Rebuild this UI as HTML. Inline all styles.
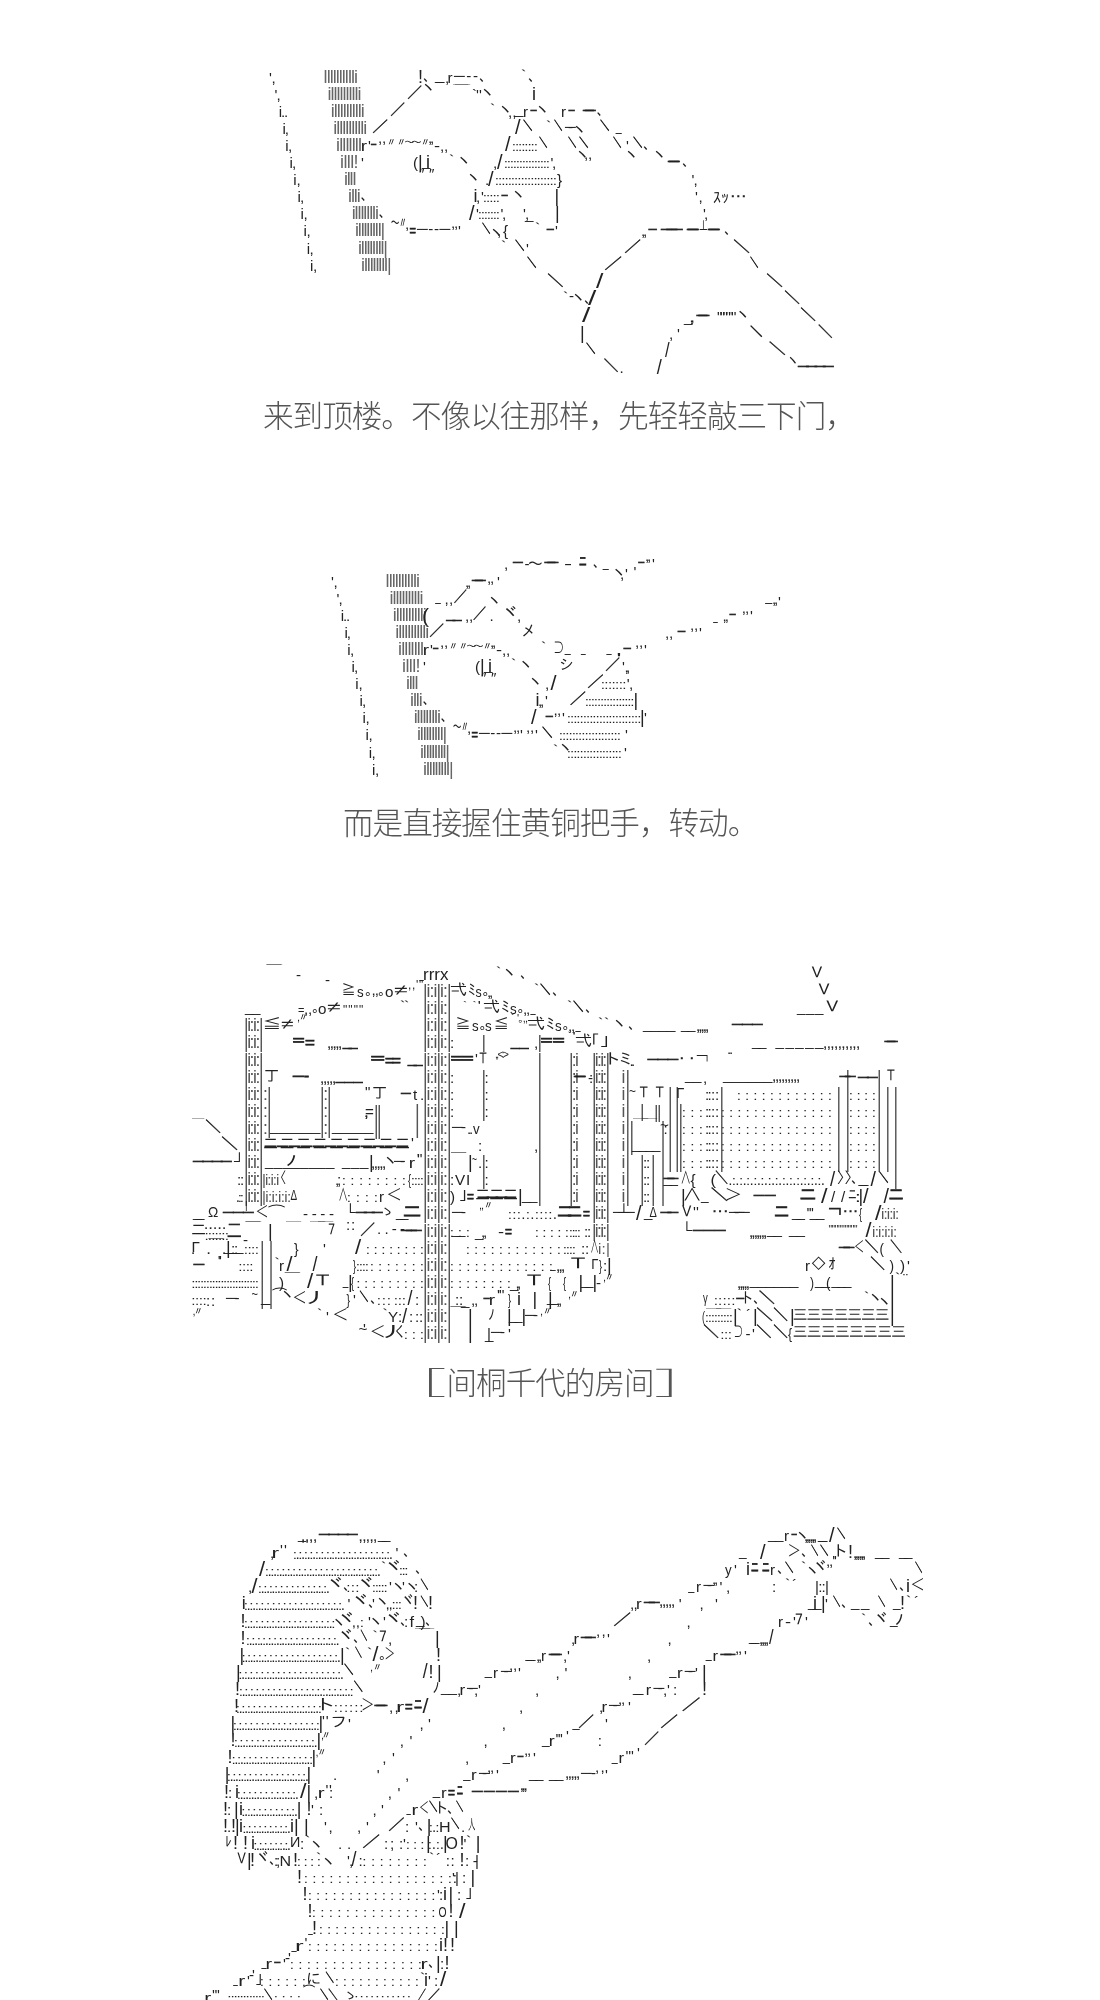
<!DOCTYPE html>
<html lang="zh"><head><meta charset="utf-8"><title>AA</title>
<style>
html,body{margin:0;padding:0;background:#fff}
body{filter:grayscale(1)}
svg text.b{stroke:#222;stroke-width:0.8px}
svg text.d{stroke:#222;stroke-width:0.4px}
svg text.c{stroke:#222;stroke-width:0.1px}
body{width:1100px;height:2000px;position:relative;overflow:hidden}
svg{position:absolute;left:0;top:0}
svg text{font-family:'Liberation Sans','IPAGothic','Noto Sans CJK JP',sans-serif;font-size:15.2px;fill:#222;white-space:pre}
.cap{position:absolute;white-space:nowrap;letter-spacing:-1px;font-family:"Liberation Sans","Noto Sans CJK SC",sans-serif;font-size:30.6px;line-height:1;color:#555;font-weight:300}
</style></head><body>
<svg width="1100" height="2000" viewBox="0 0 1100 2000">
<text x="269.0" y="82.5">'</text>
<text x="271.5" y="82.5">,</text>
<text x="323.6" y="82.5" style="font-size:18px;fill:#666;letter-spacing:-0.96px;">lllllllllli</text>
<text x="418.0" y="82.5" style="font-size:18px;">!</text>
<text x="423.0" y="80.5">､</text>
<text x="435.0" y="80.0" style="letter-spacing:-7.45px;">__</text>
<text x="445.0" y="82.5">,</text>
<text x="447.5" y="82.5">r</text>
<text x="454.0" y="80.5" style="letter-spacing:1.59px;">─--</text>
<text x="479.0" y="80.5">､</text>
<text x="516.0" y="80.5">｀</text>
<text x="528.0" y="80.5">､</text>
<text x="274.5" y="99.6">'</text>
<text x="276.5" y="99.6">,</text>
<text x="327.6" y="99.6" style="font-size:18px;fill:#666;letter-spacing:-1.00px;">illllllllli</text>
<text class="d" transform="translate(407.0 97.6) scale(1.000 1)" x="0.0" y="0">／</text>
<text x="421.0" y="92.6">ヽ</text>
<text x="453.0" y="97.6" style="letter-spacing:-13.19px;">￣￣</text>
<text x="472.0" y="99.6">`</text>
<text x="476.0" y="99.6">''</text>
<text x="480.0" y="97.6">ヽ</text>
<text x="532.0" y="99.6" style="font-size:18px;">i</text>
<text x="278.7" y="116.7" style="letter-spacing:-1.15px;">i..</text>
<text x="330.8" y="116.7" style="font-size:18px;fill:#666;letter-spacing:-1.00px;">illllllllli</text>
<text class="d" transform="translate(390.0 114.7) scale(1.000 1)" x="0.0" y="0">／</text>
<text x="485.0" y="114.7">｀</text>
<text x="498.0" y="114.7">ヽ</text>
<text x="508.0" y="116.7">,,</text>
<text x="515.0" y="114.2">_</text>
<text x="523.0" y="116.7">r</text>
<text class="d" transform="translate(530.0 114.7) scale(0.583 1)" x="1.0" y="0">─</text>
<text x="535.0" y="114.7">ヽ</text>
<text x="561.0" y="116.7">r</text>
<text class="d" transform="translate(568.0 114.7) scale(0.583 1)" x="1.0" y="0">─</text>
<text class="d" x="583.0" y="114.7" style="letter-spacing:-8.76px;">──</text>
<text x="596.5" y="114.7">､</text>
<text x="282.4" y="133.8" style="letter-spacing:-1.07px;">i,</text>
<text x="333.3" y="133.8" style="font-size:18px;fill:#666;letter-spacing:-1.00px;">illllllllli</text>
<text class="d" transform="translate(372.0 131.8) scale(1.067 1)" x="0.0" y="0">／</text>
<text transform="translate(515.0 134.3) scale(1.000 1)" x="0.0" y="0" style="font-size:20px;">/</text>
<text class="b" transform="translate(523.0 130.3) scale(0.750 1)" x="0.0" y="0" style="font-size:12.5px;">＼</text>
<text x="541.0" y="131.8">｀</text>
<text class="b" transform="translate(554.0 130.3) scale(0.667 1)" x="0.0" y="0" style="font-size:12.5px;">＼</text>
<text x="565.0" y="131.8" style="letter-spacing:-7.76px;">─-</text>
<text x="572.0" y="134.8">ヽ</text>
<text class="b" transform="translate(600.0 130.3) scale(0.750 1)" x="0.0" y="0" style="font-size:12.5px;">＼</text>
<text transform="translate(615.0 131.3) scale(0.700 1)" x="1.0" y="0">_</text>
<text x="285.3" y="150.9" style="letter-spacing:-0.67px;">i,</text>
<text x="336.0" y="150.9" style="font-size:18px;fill:#666;letter-spacing:-0.86px;">illlllll</text>
<text transform="translate(362.0 150.9) scale(1.250 1)" x="-1.0" y="0">r</text>
<text x="368.0" y="150.9">'</text>
<text class="d" transform="translate(370.6 148.9) scale(0.492 1)" x="1.0" y="0">─</text>
<text x="378.0" y="142.9" style="letter-spacing:-0.22px;">,,</text>
<text x="386.0" y="145.9" style="font-size:11px;letter-spacing:-1.00px;">〃〃</text>
<text x="404.0" y="145.9" style="font-size:11px;letter-spacing:-4.00px;">～～</text>
<text transform="translate(422.0 145.9) scale(1.000 1)" x="-2.0" y="0" style="font-size:11px;">〃</text>
<text x="428.0" y="142.9" style="letter-spacing:-2.22px;">,,</text>
<text transform="translate(434.0 150.9) scale(1.200 1)" x="0.0" y="0">-</text>
<text x="440.0" y="150.9" style="letter-spacing:-0.22px;">,,</text>
<text transform="translate(505.0 151.4) scale(1.000 1)" x="0.0" y="0" style="font-size:20px;">/</text>
<text class="c" x="512.0" y="150.9" style="font-size:13.5px;letter-spacing:-0.61px;">::::::::</text>
<text class="b" transform="translate(539.0 147.4) scale(0.667 1)" x="0.0" y="0" style="font-size:12.5px;">＼</text>
<text class="b" transform="translate(568.0 147.4) scale(0.667 1)" x="0.0" y="0" style="font-size:12.5px;">＼</text>
<text class="b" transform="translate(579.0 147.4) scale(0.750 1)" x="0.0" y="0" style="font-size:12.5px;">＼</text>
<text class="b" transform="translate(613.0 147.4) scale(0.667 1)" x="0.0" y="0" style="font-size:12.5px;">＼</text>
<text x="626.0" y="150.9">'</text>
<text class="b" transform="translate(633.0 147.4) scale(0.750 1)" x="0.0" y="0" style="font-size:12.5px;">＼</text>
<text x="643.0" y="148.9">､</text>
<text x="289.6" y="168.0" style="letter-spacing:-0.97px;">i,</text>
<text x="340.0" y="168.0" style="font-size:18px;fill:#666;letter-spacing:-0.62px;">illl!</text>
<text x="361.0" y="168.0">'</text>
<text x="413.0" y="168.0">(</text>
<text x="418.0" y="168.0" style="font-size:18px;">|</text>
<text x="422.0" y="165.5">_</text>
<text x="426.0" y="168.0" style="font-size:18px;">i</text>
<text x="444.0" y="166.0">｀</text>
<text x="456.5" y="166.0">ヽ</text>
<text x="493.0" y="168.0">,</text>
<text transform="translate(497.0 168.5) scale(1.000 1)" x="0.0" y="0" style="font-size:20px;">/</text>
<text class="c" x="504.0" y="168.0" style="font-size:13.5px;letter-spacing:-0.75px;">:::::::::::::::</text>
<text x="550.6" y="168.0">'</text>
<text x="552.0" y="168.0">,</text>
<text x="575.0" y="160.0">ヽ</text>
<text x="584.0" y="159.0" style="letter-spacing:-0.22px;">,,</text>
<text x="624.0" y="160.0">ヽ</text>
<text x="652.0" y="160.0">ヽ</text>
<text class="d" x="668.0" y="166.0" style="letter-spacing:-9.76px;">──</text>
<text x="682.0" y="166.0">､</text>
<text x="293.3" y="185.1" style="letter-spacing:-0.27px;">i,</text>
<text x="344.0" y="185.1" style="font-size:18px;fill:#666;letter-spacing:-1.20px;">illl</text>
<text x="419.0" y="179.1" style="letter-spacing:4.62px;">″″</text>
<text x="466.0" y="183.1">ヽ</text>
<text x="485.0" y="185.1">.</text>
<text transform="translate(488.0 185.6) scale(1.000 1)" x="0.0" y="0" style="font-size:20px;">/</text>
<text class="c" x="495.0" y="185.1" style="font-size:13.5px;letter-spacing:-0.53px;">:::::::::::::::::::</text>
<text x="557.0" y="185.1">}</text>
<text x="691.5" y="185.1">'</text>
<text x="693.5" y="185.1">,</text>
<text x="297.6" y="202.2" style="letter-spacing:-0.97px;">i,</text>
<text x="348.0" y="202.2" style="font-size:18px;fill:#666;letter-spacing:-1.10px;">illi</text>
<text x="360.5" y="200.2">､</text>
<text x="473.6" y="202.2" style="font-size:18px;">i</text>
<text x="476.0" y="202.2">,</text>
<text x="481.0" y="202.2">'</text>
<text class="c" x="483.0" y="202.2" style="font-size:13.5px;letter-spacing:-0.50px;">:::::</text>
<text class="d" transform="translate(501.0 200.2) scale(0.583 1)" x="1.0" y="0">─</text>
<text x="511.0" y="200.2">ヽ</text>
<text x="554.6" y="202.2" style="font-size:18px;">|</text>
<text x="695.0" y="202.2">'</text>
<text x="698.5" y="202.2">,</text>
<text x="713.0" y="202.7" style="font-size:16px;letter-spacing:0.00px;">ｽｯ</text>
<text x="729.0" y="202.2" style="letter-spacing:-2.09px;">･･･</text>
<text x="300.5" y="219.3" style="letter-spacing:-0.27px;">i,</text>
<text x="351.7" y="219.3" style="font-size:18px;fill:#666;letter-spacing:-1.09px;">illllllli</text>
<text x="378.6" y="217.3">､</text>
<text transform="translate(469.0 219.8) scale(1.000 1)" x="0.0" y="0" style="font-size:20px;">/</text>
<text x="476.0" y="219.3">'</text>
<text class="c" x="478.0" y="219.3" style="font-size:13.5px;letter-spacing:-0.75px;">:::::::</text>
<text x="500.5" y="219.3">'</text>
<text x="502.0" y="219.3">,</text>
<text x="523.0" y="219.3">'</text>
<text x="525.0" y="219.3" style="letter-spacing:-4.22px;">,_</text>
<text x="555.0" y="219.3" style="font-size:18px;">|</text>
<text x="703.0" y="219.3">'</text>
<text x="704.0" y="219.3">,</text>
<text x="303.5" y="236.4" style="letter-spacing:-0.37px;">i,</text>
<text x="355.0" y="236.4" style="font-size:18px;fill:#666;letter-spacing:-1.17px;">illllllll|</text>
<text transform="translate(391.0 228.4) scale(0.615 1)" x="-1.0" y="0">～</text>
<text transform="translate(400.0 228.4) scale(0.625 1)" x="-3.0" y="0">〃</text>
<text x="405.0" y="229.4">,</text>
<text class="b" transform="translate(409.5 236.4) scale(0.722 1)" x="0.0" y="0">=</text>
<text x="417.0" y="234.4" style="letter-spacing:0.54px;">─--─</text>
<text x="451.0" y="228.4" style="letter-spacing:-1.22px;">,,</text>
<text x="458.0" y="236.4">'</text>
<text class="b" transform="translate(482.0 232.9) scale(0.667 1)" x="0.0" y="0" style="font-size:12.5px;">＼</text>
<text x="489.0" y="238.4">ヽ</text>
<text x="497.0" y="236.4">,</text>
<text x="503.0" y="236.4">{</text>
<text x="530.0" y="234.4">｀</text>
<text class="d" transform="translate(546.0 234.4) scale(0.667 1)" x="1.0" y="0">─</text>
<text x="555.0" y="236.4">'</text>
<text x="641.0" y="236.4" style="letter-spacing:-2.22px;">,,</text>
<text class="d" transform="translate(647.7 234.4) scale(0.775 1)" x="1.0" y="0">─</text>
<text class="d" x="661.0" y="234.4" style="letter-spacing:-5.26px;">───</text>
<text class="d" x="687.0" y="234.4" style="letter-spacing:-9.76px;">──</text>
<text transform="translate(699.0 234.4) scale(0.667 1)" x="1.0" y="0">┴</text>
<text class="d" x="708.0" y="234.4" style="letter-spacing:-9.76px;">──</text>
<text x="724.0" y="234.4">､</text>
<text x="306.7" y="253.5" style="letter-spacing:-0.57px;">i,</text>
<text x="358.0" y="253.5" style="font-size:18px;fill:#666;letter-spacing:-1.18px;">illllllll|</text>
<text x="496.0" y="251.5">｀</text>
<text class="b" transform="translate(515.0 250.0) scale(0.750 1)" x="0.0" y="0" style="font-size:12.5px;">＼</text>
<text x="526.0" y="253.5">'</text>
<text class="d" transform="translate(624.0 251.5) scale(1.133 1)" x="0.0" y="0">／</text>
<text class="d" transform="translate(733.0 251.5) scale(1.133 1)" x="0.0" y="0">＼</text>
<text x="310.0" y="270.6" style="letter-spacing:-0.37px;">i,</text>
<text x="361.0" y="270.6" style="font-size:18px;fill:#666;letter-spacing:-1.11px;">illllllll|</text>
<text class="b" transform="translate(527.0 267.1) scale(0.750 1)" x="0.0" y="0" style="font-size:12.5px;">＼</text>
<text class="d" transform="translate(604.0 268.6) scale(1.200 1)" x="0.0" y="0">／</text>
<text class="b" transform="translate(750.0 267.1) scale(0.667 1)" x="0.0" y="0" style="font-size:12.5px;">＼</text>
<text class="d" transform="translate(547.0 285.7) scale(1.107 1)" x="0.0" y="0">＼</text>
<text transform="translate(596.0 288.2) scale(1.333 1)" x="0.0" y="0" style="font-size:20px;">/</text>
<text class="d" transform="translate(766.0 285.7) scale(1.133 1)" x="0.0" y="0">＼</text>
<text x="558.0" y="302.8">｀</text>
<text x="569.0" y="300.8">-</text>
<text x="571.0" y="302.8">ヽ</text>
<text x="584.0" y="302.8">､</text>
<text transform="translate(588.0 305.3) scale(1.500 1)" x="0.0" y="0" style="font-size:20px;">/</text>
<text class="d" transform="translate(784.0 302.8) scale(1.067 1)" x="0.0" y="0">＼</text>
<text transform="translate(582.0 322.4) scale(1.500 1)" x="0.0" y="0" style="font-size:20px;">/</text>
<text x="684.0" y="321.9" style="letter-spacing:-3.03px;">_,,</text>
<text class="d" x="696.5" y="319.9" style="letter-spacing:-8.76px;">──</text>
<text x="717.0" y="321.9" style="letter-spacing:-2.59px;">""""""</text>
<text x="735.6" y="319.9">ヽ</text>
<text class="d" transform="translate(800.0 319.9) scale(1.067 1)" x="0.0" y="0">＼</text>
<text x="580.0" y="339.0" style="font-size:18px;">|</text>
<text x="677.0" y="339.0">'</text>
<text x="669.0" y="339.0">,</text>
<text class="b" transform="translate(750.0 335.5) scale(1.000 1)" x="0.0" y="0" style="font-size:12.5px;">＼</text>
<text class="d" transform="translate(817.7 337.0) scale(1.000 1)" x="0.0" y="0">＼</text>
<text class="b" transform="translate(586.0 352.6) scale(0.750 1)" x="0.0" y="0" style="font-size:12.5px;">＼</text>
<text transform="translate(665.0 356.6) scale(0.833 1)" x="0.0" y="0" style="font-size:20px;">/</text>
<text class="d" transform="translate(768.6 354.1) scale(1.160 1)" x="0.0" y="0">＼</text>
<text class="d" transform="translate(603.6 371.2) scale(1.000 1)" x="0.0" y="0">＼</text>
<text x="619.5" y="373.2">.</text>
<text transform="translate(656.8 373.7) scale(0.917 1)" x="0.0" y="0" style="font-size:20px;">/</text>
<text transform="translate(789.0 366.2) scale(0.875 1)" x="-3.0" y="0">ヽ</text>
<text class="d" x="798.0" y="371.2" style="letter-spacing:-2.43px;">────</text>
<text x="331.0" y="586.5">'</text>
<text x="333.5" y="586.5">,</text>
<text x="385.6" y="586.5" style="font-size:18px;fill:#666;letter-spacing:-0.96px;">lllllllllli</text>
<text class="d" x="472.0" y="584.5" style="letter-spacing:-7.76px;">──</text>
<text x="487.0" y="582.5" style="letter-spacing:-1.22px;">,,</text>
<text x="497.0" y="586.5">'</text>
<text x="465.0" y="586.5" style="letter-spacing:-2.22px;">,,</text>
<text x="611.5" y="577.5">ヽ</text>
<text x="620.0" y="578.5" style="letter-spacing:0.78px;">,'</text>
<text x="336.5" y="603.6">'</text>
<text x="338.5" y="603.6">,</text>
<text x="389.6" y="603.6" style="font-size:18px;fill:#666;letter-spacing:-1.00px;">illllllllli</text>
<text transform="translate(434.5 601.1) scale(0.650 1)" x="1.0" y="0">_</text>
<text x="444.5" y="603.6" style="letter-spacing:0.28px;">,,</text>
<text class="d" transform="translate(453.6 601.6) scale(0.893 1)" x="0.0" y="0">／</text>
<text x="487.0" y="605.6">ヽ</text>
<text transform="translate(764.5 601.1) scale(0.820 1)" x="1.0" y="0">_</text>
<text x="772.0" y="603.6" style="letter-spacing:-2.22px;">,,</text>
<text x="778.0" y="606.6">'</text>
<text x="340.7" y="620.7" style="letter-spacing:-1.15px;">i..</text>
<text x="392.8" y="620.7" style="font-size:18px;fill:#666;letter-spacing:-1.00px;">illllllllli</text>
<text x="422.0" y="622.7" style="font-size:21px;">(</text>
<text class="b" x="446.5" y="618.2" style="letter-spacing:-1.95px;">__</text>
<text x="465.0" y="620.7" style="letter-spacing:-0.22px;">,,</text>
<text class="d" transform="translate(472.7 618.7) scale(0.887 1)" x="0.0" y="0">／</text>
<text x="489.5" y="620.7">.</text>
<text x="501.5" y="618.7" style="font-size:18px;">ヾ</text>
<text x="517.0" y="620.7">,</text>
<text transform="translate(712.7 620.2) scale(0.530 1)" x="1.0" y="0">_</text>
<text x="722.6" y="620.7" style="letter-spacing:-2.12px;">,,</text>
<text class="d" transform="translate(729.0 618.7) scale(0.583 1)" x="1.0" y="0">─</text>
<text x="741.7" y="612.7" style="letter-spacing:-0.92px;">,,</text>
<text x="750.0" y="620.7">'</text>
<text x="344.4" y="637.8" style="letter-spacing:-1.07px;">i,</text>
<text x="395.3" y="637.8" style="font-size:18px;fill:#666;letter-spacing:-1.00px;">illllllllli</text>
<text class="d" transform="translate(429.0 635.8) scale(1.000 1)" x="0.0" y="0">／</text>
<text x="521.0" y="635.8">メ</text>
<text x="665.0" y="637.8" style="letter-spacing:-0.22px;">,,</text>
<text class="d" transform="translate(677.0 635.8) scale(0.708 1)" x="1.0" y="0">─</text>
<text x="690.0" y="629.8" style="letter-spacing:-0.22px;">,,</text>
<text x="699.0" y="637.8">'</text>
<text x="347.3" y="654.9" style="letter-spacing:-0.67px;">i,</text>
<text x="398.0" y="654.9" style="font-size:18px;fill:#666;letter-spacing:-0.86px;">illlllll</text>
<text transform="translate(424.0 654.9) scale(1.250 1)" x="-1.0" y="0">r</text>
<text x="430.0" y="654.9">'</text>
<text class="d" transform="translate(432.6 652.9) scale(0.492 1)" x="1.0" y="0">─</text>
<text x="440.0" y="646.9" style="letter-spacing:-0.22px;">,,</text>
<text x="448.0" y="649.9" style="font-size:11px;letter-spacing:-1.00px;">〃〃</text>
<text x="466.0" y="649.9" style="font-size:11px;letter-spacing:-4.00px;">～～</text>
<text transform="translate(484.0 649.9) scale(1.000 1)" x="-2.0" y="0" style="font-size:11px;">〃</text>
<text x="490.0" y="646.9" style="letter-spacing:-2.22px;">,,</text>
<text transform="translate(496.0 654.9) scale(1.200 1)" x="0.0" y="0">-</text>
<text x="502.0" y="654.9" style="letter-spacing:-0.22px;">,,</text>
<text x="536.0" y="652.9">｀</text>
<text transform="translate(554.5 652.9) scale(0.654 1)" x="-1.0" y="0">⊃</text>
<text transform="translate(564.0 652.4) scale(0.700 1)" x="1.0" y="0">_</text>
<text transform="translate(580.5 652.4) scale(0.550 1)" x="1.0" y="0">_</text>
<text transform="translate(606.0 652.4) scale(0.600 1)" x="1.0" y="0">_</text>
<text x="617.0" y="662.9" style="letter-spacing:-1.90px;">''</text>
<text class="d" transform="translate(622.7 652.9) scale(0.692 1)" x="1.0" y="0">─</text>
<text x="635.0" y="646.9" style="letter-spacing:-0.22px;">,,</text>
<text x="644.0" y="654.9">'</text>
<text x="351.6" y="672.0" style="letter-spacing:-0.97px;">i,</text>
<text x="402.0" y="672.0" style="font-size:18px;fill:#666;letter-spacing:-0.62px;">illl!</text>
<text x="423.0" y="672.0">'</text>
<text x="475.0" y="672.0">(</text>
<text x="480.0" y="672.0" style="font-size:18px;">|</text>
<text x="484.0" y="669.5">_</text>
<text x="488.0" y="672.0" style="font-size:18px;">i</text>
<text x="506.0" y="670.0">｀</text>
<text x="518.5" y="670.0">ヽ</text>
<text x="559.0" y="670.0">シ</text>
<text class="d" transform="translate(605.0 670.0) scale(1.000 1)" x="0.0" y="0">／</text>
<text x="622.0" y="672.0">'</text>
<text x="624.5" y="672.0" style="letter-spacing:-2.72px;">,,</text>
<text x="355.3" y="689.1" style="letter-spacing:-0.27px;">i,</text>
<text x="406.0" y="689.1" style="font-size:18px;fill:#666;letter-spacing:-1.20px;">illl</text>
<text x="481.0" y="683.1" style="letter-spacing:4.62px;">″″</text>
<text x="528.0" y="687.1">ヽ</text>
<text x="545.0" y="689.1">,</text>
<text transform="translate(550.5 689.6) scale(1.083 1)" x="0.0" y="0" style="font-size:20px;">/</text>
<text class="d" transform="translate(587.0 687.1) scale(1.107 1)" x="0.0" y="0">／</text>
<text class="c" x="601.0" y="689.1" style="font-size:13.5px;letter-spacing:-0.17px;">:::::::</text>
<text x="626.8" y="689.1">'</text>
<text x="629.0" y="689.1">,</text>
<text x="359.6" y="706.2" style="letter-spacing:-0.97px;">i,</text>
<text x="410.0" y="706.2" style="font-size:18px;fill:#666;letter-spacing:-1.10px;">illi</text>
<text x="422.5" y="704.2">､</text>
<text x="535.6" y="706.2" style="font-size:18px;">i</text>
<text x="538.0" y="706.2">,</text>
<text x="540.0" y="706.2">,</text>
<text x="545.0" y="706.2">'</text>
<text class="d" transform="translate(569.5 704.2) scale(1.100 1)" x="0.0" y="0">／</text>
<text class="c" x="585.0" y="706.2" style="font-size:13.5px;letter-spacing:-0.71px;">::::::::::::::::</text>
<text x="633.5" y="706.2" style="font-size:18px;">|</text>
<text x="362.5" y="723.3" style="letter-spacing:-0.27px;">i,</text>
<text x="413.7" y="723.3" style="font-size:18px;fill:#666;letter-spacing:-1.09px;">illllllli</text>
<text x="440.6" y="721.3">､</text>
<text transform="translate(531.0 723.8) scale(1.000 1)" x="0.0" y="0" style="font-size:20px;">/</text>
<text class="d" transform="translate(545.0 721.3) scale(0.667 1)" x="1.0" y="0">─</text>
<text x="553.5" y="715.3" style="letter-spacing:-0.72px;">,,</text>
<text x="562.0" y="723.3">'</text>
<text class="c" x="567.0" y="723.3" style="font-size:13.5px;letter-spacing:-0.55px;">:::::::::::::::::::::::</text>
<text x="640.0" y="723.3" style="font-size:18px;">|</text>
<text x="644.0" y="723.3">'</text>
<text x="365.5" y="740.4" style="letter-spacing:-0.37px;">i,</text>
<text x="417.0" y="740.4" style="font-size:18px;fill:#666;letter-spacing:-1.17px;">illllllll|</text>
<text transform="translate(453.0 732.4) scale(0.615 1)" x="-1.0" y="0">～</text>
<text transform="translate(462.0 732.4) scale(0.625 1)" x="-3.0" y="0">〃</text>
<text x="467.0" y="733.4">,</text>
<text class="b" transform="translate(471.5 740.4) scale(0.722 1)" x="0.0" y="0">=</text>
<text x="479.0" y="738.4" style="letter-spacing:0.54px;">─--─</text>
<text x="513.0" y="732.4" style="letter-spacing:-1.22px;">,,</text>
<text x="520.0" y="740.4">'</text>
<text x="526.0" y="732.4" style="letter-spacing:-0.22px;">,,</text>
<text x="535.0" y="740.4">'</text>
<text class="b" transform="translate(542.0 736.9) scale(0.833 1)" x="0.0" y="0" style="font-size:12.5px;">＼</text>
<text class="c" x="559.0" y="740.4" style="font-size:13.5px;letter-spacing:-0.53px;">:::::::::::::::::::</text>
<text x="625.0" y="740.4">'</text>
<text x="368.7" y="757.5" style="letter-spacing:-0.57px;">i,</text>
<text x="420.0" y="757.5" style="font-size:18px;fill:#666;letter-spacing:-1.18px;">illllllll|</text>
<text x="548.0" y="755.5">｀</text>
<text x="558.0" y="752.5">ヽ</text>
<text class="c" x="567.0" y="757.5" style="font-size:13.5px;letter-spacing:-0.56px;">:::::::::::::::::</text>
<text x="624.0" y="757.5">'</text>
<text x="372.0" y="774.6" style="letter-spacing:-0.37px;">i,</text>
<text x="423.0" y="774.6" style="font-size:18px;fill:#666;letter-spacing:-1.11px;">illllllll|</text>
<text x="504.0" y="569.4">,</text>
<text class="d" transform="translate(512.0 567.4) scale(0.917 1)" x="1.0" y="0">─</text>
<text x="524.5" y="569.4">-</text>
<text transform="translate(528.6 569.4) scale(1.031 1)" x="-1.0" y="0">～</text>
<text class="d" x="544.6" y="567.4" style="letter-spacing:-7.76px;">──</text>
<text transform="translate(564.0 569.4) scale(1.600 1)" x="0.0" y="0">-</text>
<text class="b" transform="translate(579.0 567.4) scale(1.000 1)" x="0.0" y="0">ﾆ</text>
<text x="592.7" y="567.4">､</text>
<text transform="translate(602.0 566.9) scale(0.700 1)" x="1.0" y="0">_</text>
<text x="633.6" y="577.4">'</text>
<text class="d" transform="translate(637.7 567.4) scale(0.567 1)" x="1.0" y="0">─</text>
<text x="645.0" y="561.4" style="letter-spacing:-2.22px;">,,</text>
<text x="652.0" y="569.4">'</text>
<text x="423.0" y="997.1" style="font-size:17.5px;fill:#555;letter-spacing:-0.93px;">|i:i|i:|</text>
<text transform="translate(343.0 995.1) scale(1.000 1)" x="-2.0" y="0">≧</text>
<text transform="translate(357.0 997.1) scale(0.875 1)" x="0.0" y="0">s</text>
<text x="365.0" y="995.1" style="letter-spacing:-1.01px;">｡,,｡</text>
<text transform="translate(385.0 997.1) scale(1.000 1)" x="0.0" y="0">o</text>
<text transform="translate(394.0 995.1) scale(1.625 1)" x="0.0" y="0">≠</text>
<text x="408.0" y="989.1" style="font-size:12px;letter-spacing:0.68px;">,,'"</text>
<text transform="translate(451.0 995.1) scale(1.143 1)" x="-1.0" y="0">弌</text>
<text transform="translate(468.0 995.1) scale(1.000 1)" x="0.0" y="0">ﾐ</text>
<text transform="translate(475.5 997.1) scale(0.812 1)" x="0.0" y="0">s</text>
<text x="482.5" y="995.1">｡</text>
<text x="487.0" y="997.1" style="letter-spacing:-2.22px;">,,</text>
<text x="529.0" y="995.1">｀</text>
<text class="b" transform="translate(540.0 993.6) scale(0.833 1)" x="0.0" y="0" style="font-size:12.5px;">＼</text>
<text x="552.0" y="995.1">､</text>
<text transform="translate(818.0 995.1) scale(1.091 1)" x="-2.0" y="0">Ｖ</text>
<text x="423.0" y="1014.2" style="font-size:17.5px;fill:#555;letter-spacing:-0.93px;">|i:i|i:|</text>
<text x="245.0" y="1011.7" style="letter-spacing:-1.45px;">__</text>
<text transform="translate(298.0 1014.2) scale(1.000 1)" x="0.0" y="0" style="font-size:11px;">=</text>
<text x="304.0" y="1014.2" style="letter-spacing:-0.22px;">,,</text>
<text x="312.0" y="1012.2">｡</text>
<text transform="translate(318.0 1014.2) scale(1.000 1)" x="0.0" y="0">o</text>
<text transform="translate(327.0 1012.2) scale(1.625 1)" x="0.0" y="0">≠</text>
<text x="343.0" y="1014.2" style="font-size:12px;letter-spacing:1.07px;">""""</text>
<text x="395.0" y="1012.2" style="letter-spacing:-11.19px;">｀｀</text>
<text x="459.0" y="1010.2" style="font-size:12px;letter-spacing:-2.43px;">｀｀''</text>
<text transform="translate(484.0 1012.2) scale(1.143 1)" x="-1.0" y="0">弌</text>
<text transform="translate(501.0 1012.2) scale(1.143 1)" x="0.0" y="0">ﾐ</text>
<text transform="translate(510.0 1014.2) scale(0.875 1)" x="0.0" y="0">s</text>
<text x="517.5" y="1012.2">｡</text>
<text x="523.0" y="1014.2" style="letter-spacing:-1.22px;">,,</text>
<text transform="translate(530.0 1011.7) scale(0.600 1)" x="1.0" y="0">_</text>
<text x="562.0" y="1012.2">｀</text>
<text class="b" transform="translate(573.0 1010.7) scale(0.833 1)" x="0.0" y="0" style="font-size:12.5px;">＼</text>
<text x="585.0" y="1012.2">､</text>
<text x="797.0" y="1011.7" style="letter-spacing:0.55px;">___</text>
<text transform="translate(825.5 1012.2) scale(1.182 1)" x="-2.0" y="0">Ｖ</text>
<text x="423.0" y="1031.3" style="font-size:17.5px;fill:#555;letter-spacing:-0.93px;">|i:i|i:|</text>
<text x="244.0" y="1031.3" style="font-size:17.5px;fill:#555;letter-spacing:-1.41px;">|i:i:|</text>
<text transform="translate(263.0 1029.3) scale(1.333 1)" x="-1.0" y="0">≦</text>
<text transform="translate(281.0 1029.3) scale(1.500 1)" x="0.0" y="0">≠</text>
<text x="297.0" y="1021.3" style="font-size:11px;letter-spacing:-2.06px;">,〃</text>
<text transform="translate(457.0 1029.3) scale(1.083 1)" x="-2.0" y="0">≧</text>
<text transform="translate(472.0 1031.3) scale(0.875 1)" x="0.0" y="0">s</text>
<text x="479.5" y="1029.3">｡</text>
<text transform="translate(485.0 1031.3) scale(0.875 1)" x="0.0" y="0">s</text>
<text transform="translate(494.0 1029.3) scale(1.083 1)" x="-1.0" y="0">≦</text>
<text x="507.0" y="1022.3" style="font-size:11px;letter-spacing:-0.91px;">｀'｡,,</text>
<text transform="translate(528.0 1029.3) scale(1.214 1)" x="-1.0" y="0">弌</text>
<text transform="translate(546.0 1029.3) scale(1.143 1)" x="0.0" y="0">ﾐ</text>
<text transform="translate(555.0 1031.3) scale(0.875 1)" x="0.0" y="0">s</text>
<text x="562.5" y="1029.3">｡</text>
<text x="568.0" y="1031.3" style="letter-spacing:-1.22px;">,,</text>
<text transform="translate(575.0 1028.8) scale(0.600 1)" x="1.0" y="0">_</text>
<text x="593.0" y="1029.3" style="letter-spacing:-9.19px;">｀｀</text>
<text x="612.0" y="1029.3">ヽ</text>
<text x="628.0" y="1029.3">､</text>
<text x="643.0" y="1028.8" style="letter-spacing:-0.45px;">____</text>
<text x="681.0" y="1028.8" style="letter-spacing:-2.45px;">__</text>
<text class="c" x="696.0" y="1031.3" style="letter-spacing:-1.97px;">,,,,,</text>
<text class="d" x="732.0" y="1029.3" style="letter-spacing:-0.76px;">───</text>
<text x="423.0" y="1048.4" style="font-size:17.5px;fill:#555;letter-spacing:-0.93px;">|i:i|i:|</text>
<text x="244.0" y="1048.4" style="font-size:17.5px;fill:#555;letter-spacing:-1.41px;">|i:i:|</text>
<text x="537.4" y="1048.4" style="font-size:17.5px;fill:#555;">|</text>
<text x="481.4" y="1048.4" style="font-size:17.5px;fill:#555;">|</text>
<text x="450.0" y="1048.4">:</text>
<text class="b" transform="translate(293.0 1046.4) scale(1.000 1)" x="-2.0" y="0">＝</text>
<text class="b" transform="translate(305.0 1048.4) scale(1.111 1)" x="0.0" y="0">=</text>
<text class="c" x="327.0" y="1048.4" style="letter-spacing:-1.47px;">,,,,,</text>
<text class="b" x="343.0" y="1045.9" style="letter-spacing:-2.45px;">__</text>
<text class="b" x="539.0" y="1046.4" style="letter-spacing:-3.19px;">＝＝</text>
<text x="564.0" y="1040.4" style="font-size:11px;letter-spacing:-2.05px;">｀''</text>
<text transform="translate(576.0 1046.4) scale(1.143 1)" x="-1.0" y="0">弌</text>
<text transform="translate(593.0 1046.4) scale(1.200 1)" x="-2.0" y="0">｢</text>
<text transform="translate(601.0 1046.4) scale(1.400 1)" x="-1.0" y="0">｣</text>
<text class="b" x="511.0" y="1045.9" style="letter-spacing:0.55px;">__</text>
<text x="534.0" y="1048.4">,</text>
<text x="752.0" y="1045.9" style="letter-spacing:-2.45px;">__</text>
<text x="775.5" y="1045.9" style="letter-spacing:1.43px;">_____</text>
<text class="c" x="823.0" y="1048.4" style="letter-spacing:-0.55px;">,,,,,,,,,,</text>
<text class="d" x="884.6" y="1046.4" style="letter-spacing:-8.36px;">──</text>
<text x="423.0" y="1065.5" style="font-size:17.5px;fill:#555;letter-spacing:-0.93px;">|i:i|i:|</text>
<text x="244.0" y="1065.5" style="font-size:17.5px;fill:#555;letter-spacing:-1.41px;">|i:i:|</text>
<text x="592.0" y="1065.5" style="font-size:17.5px;fill:#555;letter-spacing:-1.71px;">|i:i:|</text>
<text x="569.0" y="1065.5" style="font-size:17.5px;fill:#555;letter-spacing:-1.70px;">|:i</text>
<text x="537.4" y="1065.5" style="font-size:17.5px;fill:#555;">|</text>
<text class="b" transform="translate(371.0 1063.5) scale(1.182 1)" x="-2.0" y="0">＝</text>
<text class="b" x="385.0" y="1065.5" style="letter-spacing:-1.87px;">==</text>
<text class="b" x="408.0" y="1063.0" style="letter-spacing:-2.45px;">__</text>
<text class="b" x="449.0" y="1063.5" style="letter-spacing:-4.19px;">＝＝</text>
<text x="475.0" y="1063.5">'</text>
<text transform="translate(479.0 1063.5) scale(0.727 1)" x="-2.0" y="0">Ｔ</text>
<text x="495.0" y="1057.5" style="font-size:10px;letter-spacing:-1.54px;">,,&lt;:&gt;</text>
<text transform="translate(609.0 1063.5) scale(1.250 1)" x="-5.0" y="0">ト</text>
<text transform="translate(620.0 1063.5) scale(1.000 1)" x="-2.0" y="0">ミ</text>
<text x="629.5" y="1065.5" style="letter-spacing:-2.72px;">..</text>
<text class="d" x="647.5" y="1063.5" style="letter-spacing:-0.76px;">───</text>
<text x="678.0" y="1063.5" style="letter-spacing:2.41px;">･･</text>
<text transform="translate(696.0 1063.5) scale(0.829 1)" x="0.0" y="0">￢</text>
<text x="727.0" y="1053.5" style="letter-spacing:-2.22px;">..</text>
<text x="423.0" y="1082.6" style="font-size:17.5px;fill:#555;letter-spacing:-0.93px;">|i:i|i:|</text>
<text x="244.0" y="1082.6" style="font-size:17.5px;fill:#555;letter-spacing:-1.41px;">|i:i:|</text>
<text x="592.0" y="1082.6" style="font-size:17.5px;fill:#555;letter-spacing:-1.71px;">|i:i:|</text>
<text x="569.0" y="1082.6" style="font-size:17.5px;fill:#555;letter-spacing:-1.70px;">|:i</text>
<text x="537.4" y="1082.6" style="font-size:17.5px;fill:#555;">|</text>
<text x="481.4" y="1082.6" style="font-size:17.5px;fill:#555;">|</text>
<text x="484.5" y="1082.6">:</text>
<text x="621.5" y="1082.6" style="font-size:17.5px;fill:#555;letter-spacing:0.11px;">i|</text>
<text x="450.0" y="1082.6">:</text>
<text x="845.5" y="1082.6" style="font-size:17.5px;fill:#555;">|</text>
<text x="877.0" y="1082.6" style="font-size:17.5px;fill:#555;">|</text>
<text transform="translate(265.0 1080.6) scale(1.000 1)" x="-1.0" y="0">丁</text>
<text class="b" x="293.0" y="1080.6" style="letter-spacing:0.24px;">─-</text>
<text class="c" x="320.0" y="1082.6" style="letter-spacing:-1.22px;">,,,,,</text>
<text class="b" x="336.0" y="1080.1" style="letter-spacing:0.55px;">___</text>
<text class="d" x="574.0" y="1080.6" style="letter-spacing:-9.76px;">──</text>
<text x="588.0" y="1082.6" style="letter-spacing:-4.06px;">-:</text>
<text x="685.0" y="1080.1" style="letter-spacing:-0.45px;">__</text>
<text x="703.0" y="1082.6">,</text>
<text x="723.0" y="1080.1" style="letter-spacing:-0.25px;">______</text>
<text class="c" x="772.0" y="1080.6" style="letter-spacing:-1.22px;">,,,,,,,,,</text>
<text class="d" x="839.5" y="1080.6" style="letter-spacing:-5.26px;">──</text>
<text class="d" x="858.0" y="1081.6" style="letter-spacing:-1.76px;">──</text>
<text transform="translate(886.5 1080.6) scale(0.773 1)" x="-2.0" y="0">Ｔ</text>
<text x="423.0" y="1099.7" style="font-size:17.5px;fill:#555;letter-spacing:-0.93px;">|i:i|i:|</text>
<text x="244.0" y="1099.7" style="font-size:17.5px;fill:#555;letter-spacing:-1.41px;">|i:i:|</text>
<text x="263.0" y="1099.7" style="font-size:17.5px;fill:#555;letter-spacing:-0.86px;">:|</text>
<text x="592.0" y="1099.7" style="font-size:17.5px;fill:#555;letter-spacing:-1.71px;">|i:i:|</text>
<text x="569.0" y="1099.7" style="font-size:17.5px;fill:#555;letter-spacing:-1.70px;">|:i</text>
<text x="537.4" y="1099.7" style="font-size:17.5px;fill:#555;">|</text>
<text x="481.4" y="1099.7" style="font-size:17.5px;fill:#555;">|</text>
<text x="484.5" y="1099.7">:</text>
<text x="621.5" y="1099.7" style="font-size:17.5px;fill:#555;letter-spacing:0.11px;">i|</text>
<text x="320.0" y="1099.7" style="font-size:17.5px;fill:#555;letter-spacing:-1.20px;">|:|</text>
<text x="450.0" y="1099.7">:</text>
<text class="c" x="737.0" y="1099.7" style="font-size:13.5px;letter-spacing:4.52px;">::::::::::::</text>
<text class="c" x="849.0" y="1099.7" style="font-size:13.5px;letter-spacing:3.92px;">::::</text>
<text x="719.5" y="1099.7" style="font-size:17.5px;fill:#555;">|</text>
<text x="836.5" y="1099.7" style="font-size:17.5px;fill:#555;">|</text>
<text x="845.5" y="1099.7" style="font-size:17.5px;fill:#555;">|</text>
<text x="877.0" y="1099.7" style="font-size:17.5px;fill:#555;">|</text>
<text x="885.5" y="1099.7" style="font-size:17.5px;fill:#555;">|</text>
<text x="893.4" y="1099.7" style="font-size:17.5px;fill:#555;">|</text>
<text x="705.0" y="1099.7" style="letter-spacing:-1.72px;">::</text>
<text x="711.0" y="1099.7" style="letter-spacing:-0.22px;">::</text>
<text x="668.0" y="1099.7" style="font-size:17.5px;fill:#555;">|</text>
<text x="675.0" y="1099.7" style="font-size:17.5px;fill:#555;">|</text>
<text x="365.0" y="1096.7">"</text>
<text transform="translate(373.0 1097.7) scale(1.000 1)" x="-1.0" y="0">丁</text>
<text class="d" transform="translate(400.0 1097.7) scale(0.917 1)" x="1.0" y="0">─</text>
<text x="413.0" y="1099.7" style="letter-spacing:2.78px;">t.</text>
<text transform="translate(629.0 1095.7) scale(0.778 1)" x="0.0" y="0">~</text>
<text transform="translate(639.0 1097.7) scale(0.818 1)" x="-2.0" y="0">Ｔ</text>
<text transform="translate(655.0 1097.7) scale(0.818 1)" x="-2.0" y="0">Ｔ</text>
<text transform="translate(677.0 1097.7) scale(1.000 1)" x="-1.0" y="0">Γ</text>
<text x="423.0" y="1116.8" style="font-size:17.5px;fill:#555;letter-spacing:-0.93px;">|i:i|i:|</text>
<text x="244.0" y="1116.8" style="font-size:17.5px;fill:#555;letter-spacing:-1.41px;">|i:i:|</text>
<text x="263.0" y="1116.8" style="font-size:17.5px;fill:#555;letter-spacing:-0.86px;">:|</text>
<text x="592.0" y="1116.8" style="font-size:17.5px;fill:#555;letter-spacing:-1.71px;">|i:i:|</text>
<text x="569.0" y="1116.8" style="font-size:17.5px;fill:#555;letter-spacing:-1.70px;">|:i</text>
<text x="537.4" y="1116.8" style="font-size:17.5px;fill:#555;">|</text>
<text x="481.4" y="1116.8" style="font-size:17.5px;fill:#555;">|</text>
<text x="484.5" y="1116.8">:</text>
<text x="621.5" y="1116.8" style="font-size:17.5px;fill:#555;letter-spacing:0.11px;">i|</text>
<text x="320.0" y="1116.8" style="font-size:17.5px;fill:#555;letter-spacing:-1.20px;">|:|</text>
<text x="450.0" y="1116.8">:</text>
<text class="c" x="721.0" y="1116.8" style="font-size:13.5px;letter-spacing:4.48px;">::::::::::::::</text>
<text class="c" x="682.0" y="1116.8" style="font-size:13.5px;letter-spacing:4.75px;">:::</text>
<text class="c" x="849.0" y="1116.8" style="font-size:13.5px;letter-spacing:3.92px;">::::</text>
<text x="719.5" y="1116.8" style="font-size:17.5px;fill:#555;">|</text>
<text x="836.5" y="1116.8" style="font-size:17.5px;fill:#555;">|</text>
<text x="845.5" y="1116.8" style="font-size:17.5px;fill:#555;">|</text>
<text x="877.0" y="1116.8" style="font-size:17.5px;fill:#555;">|</text>
<text x="885.5" y="1116.8" style="font-size:17.5px;fill:#555;">|</text>
<text x="893.4" y="1116.8" style="font-size:17.5px;fill:#555;">|</text>
<text x="705.0" y="1116.8" style="letter-spacing:-1.72px;">::</text>
<text x="711.0" y="1116.8" style="letter-spacing:-0.22px;">::</text>
<text x="668.0" y="1116.8" style="font-size:17.5px;fill:#555;">|</text>
<text x="675.0" y="1116.8" style="font-size:17.5px;fill:#555;">|</text>
<text x="678.5" y="1116.8" style="font-size:17.5px;fill:#555;">|</text>
<text x="640.0" y="1116.8" style="font-size:17.5px;fill:#555;">|</text>
<text x="364.0" y="1116.8" style="letter-spacing:-3.72px;">,,=</text>
<text x="374.0" y="1117.8" style="font-size:17.5px;fill:#555;letter-spacing:-1.55px;">||</text>
<text x="415.0" y="1116.8" style="font-size:18px;fill:#555;">|</text>
<text x="654.0" y="1117.8" style="font-size:17.5px;fill:#555;letter-spacing:-1.55px;">||</text>
<text x="423.0" y="1133.9" style="font-size:17.5px;fill:#555;letter-spacing:-0.93px;">|i:i|i:|</text>
<text x="244.0" y="1133.9" style="font-size:17.5px;fill:#555;letter-spacing:-1.41px;">|i:i:|</text>
<text x="263.0" y="1133.9" style="font-size:17.5px;fill:#555;letter-spacing:-0.86px;">:|</text>
<text x="592.0" y="1133.9" style="font-size:17.5px;fill:#555;letter-spacing:-1.71px;">|i:i:|</text>
<text x="569.0" y="1133.9" style="font-size:17.5px;fill:#555;letter-spacing:-1.70px;">|:i</text>
<text x="537.4" y="1133.9" style="font-size:17.5px;fill:#555;">|</text>
<text x="621.5" y="1133.9" style="font-size:17.5px;fill:#555;letter-spacing:0.11px;">i|</text>
<text x="320.0" y="1133.9" style="font-size:17.5px;fill:#555;letter-spacing:-1.20px;">|:|</text>
<text class="c" x="721.0" y="1133.9" style="font-size:13.5px;letter-spacing:4.48px;">::::::::::::::</text>
<text class="c" x="682.0" y="1133.9" style="font-size:13.5px;letter-spacing:4.75px;">:::</text>
<text class="c" x="849.0" y="1133.9" style="font-size:13.5px;letter-spacing:3.92px;">::::</text>
<text x="719.5" y="1133.9" style="font-size:17.5px;fill:#555;">|</text>
<text x="836.5" y="1133.9" style="font-size:17.5px;fill:#555;">|</text>
<text x="845.5" y="1133.9" style="font-size:17.5px;fill:#555;">|</text>
<text x="877.0" y="1133.9" style="font-size:17.5px;fill:#555;">|</text>
<text x="885.5" y="1133.9" style="font-size:17.5px;fill:#555;">|</text>
<text x="893.4" y="1133.9" style="font-size:17.5px;fill:#555;">|</text>
<text x="705.0" y="1133.9" style="letter-spacing:-1.72px;">::</text>
<text x="711.0" y="1133.9" style="letter-spacing:-0.22px;">::</text>
<text x="668.0" y="1133.9" style="font-size:17.5px;fill:#555;">|</text>
<text x="675.0" y="1133.9" style="font-size:17.5px;fill:#555;">|</text>
<text x="678.5" y="1133.9" style="font-size:17.5px;fill:#555;">|</text>
<text x="660.7" y="1133.9" style="font-size:17.5px;fill:#555;">|</text>
<text x="629.5" y="1133.9" style="font-size:17.5px;fill:#555;">|</text>
<text transform="translate(192.0 1131.9) scale(0.812 1)" x="0.0" y="0">￣</text>
<text class="d" transform="translate(205.0 1131.9) scale(1.067 1)" x="0.0" y="0">＼</text>
<text x="270.0" y="1131.4" style="letter-spacing:-0.05px;">______</text>
<text x="332.0" y="1131.4" style="letter-spacing:-0.20px;">_____</text>
<text x="374.0" y="1134.9" style="font-size:17.5px;fill:#555;letter-spacing:-1.55px;">||</text>
<text x="415.0" y="1133.9" style="font-size:18px;fill:#555;">|</text>
<text x="452.0" y="1131.9" style="letter-spacing:-1.76px;">─-</text>
<text x="467.0" y="1133.9" style="letter-spacing:-2.22px;">..</text>
<text transform="translate(473.0 1133.9) scale(0.875 1)" x="0.0" y="0">v</text>
<text x="633.0" y="1131.9" style="letter-spacing:-6.19px;">￣￣</text>
<text x="660.0" y="1129.9">~</text>
<text x="663.5" y="1133.9">:</text>
<text x="423.0" y="1151.0" style="font-size:17.5px;fill:#555;letter-spacing:-0.93px;">|i:i|i:|</text>
<text x="244.0" y="1151.0" style="font-size:17.5px;fill:#555;letter-spacing:-1.41px;">|i:i:|</text>
<text x="592.0" y="1151.0" style="font-size:17.5px;fill:#555;letter-spacing:-1.71px;">|i:i:|</text>
<text x="569.0" y="1151.0" style="font-size:17.5px;fill:#555;letter-spacing:-1.70px;">|:i</text>
<text x="537.4" y="1151.0" style="font-size:17.5px;fill:#555;">|</text>
<text x="621.5" y="1151.0" style="font-size:17.5px;fill:#555;letter-spacing:0.11px;">i|</text>
<text class="c" x="721.0" y="1151.0" style="font-size:13.5px;letter-spacing:4.48px;">::::::::::::::</text>
<text class="c" x="682.0" y="1151.0" style="font-size:13.5px;letter-spacing:4.75px;">:::</text>
<text class="c" x="849.0" y="1151.0" style="font-size:13.5px;letter-spacing:3.92px;">::::</text>
<text x="719.5" y="1151.0" style="font-size:17.5px;fill:#555;">|</text>
<text x="836.5" y="1151.0" style="font-size:17.5px;fill:#555;">|</text>
<text x="845.5" y="1151.0" style="font-size:17.5px;fill:#555;">|</text>
<text x="877.0" y="1151.0" style="font-size:17.5px;fill:#555;">|</text>
<text x="885.5" y="1151.0" style="font-size:17.5px;fill:#555;">|</text>
<text x="893.4" y="1151.0" style="font-size:17.5px;fill:#555;">|</text>
<text x="705.0" y="1151.0" style="letter-spacing:-1.72px;">::</text>
<text x="711.0" y="1151.0" style="letter-spacing:-0.22px;">::</text>
<text x="668.0" y="1151.0" style="font-size:17.5px;fill:#555;">|</text>
<text x="675.0" y="1151.0" style="font-size:17.5px;fill:#555;">|</text>
<text x="678.5" y="1151.0" style="font-size:17.5px;fill:#555;">|</text>
<text x="660.7" y="1151.0" style="font-size:17.5px;fill:#555;">|</text>
<text x="629.5" y="1151.0" style="font-size:17.5px;fill:#555;">|</text>
<text class="d" transform="translate(221.0 1149.0) scale(1.133 1)" x="0.0" y="0">＼</text>
<text x="263.0" y="1149.0" style="letter-spacing:1.31px;">二二二二二二二二二</text>
<text class="b" x="265.0" y="1151.0" style="letter-spacing:1.24px;">────────────</text>
<text x="411.0" y="1148.0">'</text>
<text x="478.0" y="1151.0">:</text>
<text x="534.0" y="1151.0">,</text>
<text x="632.0" y="1148.5" style="letter-spacing:-1.78px;">____</text>
<text x="423.0" y="1168.1" style="font-size:17.5px;fill:#555;letter-spacing:-0.93px;">|i:i|i:|</text>
<text x="244.0" y="1168.1" style="font-size:17.5px;fill:#555;letter-spacing:-1.41px;">|i:i:|</text>
<text x="592.0" y="1168.1" style="font-size:17.5px;fill:#555;letter-spacing:-1.71px;">|i:i:|</text>
<text x="569.0" y="1168.1" style="font-size:17.5px;fill:#555;letter-spacing:-1.70px;">|:i</text>
<text x="537.4" y="1168.1" style="font-size:17.5px;fill:#555;">|</text>
<text x="481.4" y="1168.1" style="font-size:17.5px;fill:#555;">|</text>
<text x="484.5" y="1168.1">:</text>
<text x="621.5" y="1168.1" style="font-size:17.5px;fill:#555;letter-spacing:0.11px;">i|</text>
<text class="c" x="721.0" y="1168.1" style="font-size:13.5px;letter-spacing:4.48px;">::::::::::::::</text>
<text class="c" x="682.0" y="1168.1" style="font-size:13.5px;letter-spacing:4.75px;">:::</text>
<text class="c" x="849.0" y="1168.1" style="font-size:13.5px;letter-spacing:3.92px;">::::</text>
<text x="719.5" y="1168.1" style="font-size:17.5px;fill:#555;">|</text>
<text x="836.5" y="1168.1" style="font-size:17.5px;fill:#555;">|</text>
<text x="845.5" y="1168.1" style="font-size:17.5px;fill:#555;">|</text>
<text x="877.0" y="1168.1" style="font-size:17.5px;fill:#555;">|</text>
<text x="885.5" y="1168.1" style="font-size:17.5px;fill:#555;">|</text>
<text x="893.4" y="1168.1" style="font-size:17.5px;fill:#555;">|</text>
<text x="705.0" y="1168.1" style="letter-spacing:-1.72px;">::</text>
<text x="711.0" y="1168.1" style="letter-spacing:-0.22px;">::</text>
<text x="668.0" y="1168.1" style="font-size:17.5px;fill:#555;">|</text>
<text x="675.0" y="1168.1" style="font-size:17.5px;fill:#555;">|</text>
<text x="678.5" y="1168.1" style="font-size:17.5px;fill:#555;">|</text>
<text x="640.0" y="1168.1" style="font-size:17.5px;fill:#555;">|</text>
<text x="651.0" y="1168.1" style="font-size:17.5px;fill:#555;">|</text>
<text x="660.7" y="1168.1" style="font-size:17.5px;fill:#555;">|</text>
<text x="643.0" y="1168.1" style="letter-spacing:-1.22px;">::</text>
<text class="d" x="193.0" y="1166.1" style="letter-spacing:-1.43px;">────</text>
<text x="234.0" y="1166.1">┘</text>
<text x="265.0" y="1165.6" style="letter-spacing:0.27px;">________</text>
<text transform="translate(287.0 1166.1) scale(1.500 1)" x="-1.0" y="0">ﾉ</text>
<text x="342.0" y="1165.6" style="letter-spacing:0.55px;">___</text>
<text x="369.0" y="1168.1" style="font-size:18px;">|</text>
<text class="c" x="371.0" y="1168.1" style="letter-spacing:-1.47px;">,,,,,</text>
<text x="383.0" y="1166.1">ヽ</text>
<text x="394.0" y="1166.1" style="letter-spacing:-4.76px;">─-</text>
<text transform="translate(410.0 1168.1) scale(1.250 1)" x="-1.0" y="0">r</text>
<text x="417.0" y="1164.1" style="letter-spacing:-2.90px;">'"</text>
<text x="451.0" y="1166.1" style="letter-spacing:-15.19px;">￣￣</text>
<text x="468.0" y="1168.1" style="font-size:18px;">|</text>
<text transform="translate(472.0 1164.1) scale(0.556 1)" x="0.0" y="0">~</text>
<text x="478.0" y="1168.1">.</text>
<text x="423.0" y="1185.2" style="font-size:17.5px;fill:#555;letter-spacing:-0.93px;">|i:i|i:|</text>
<text x="244.0" y="1185.2" style="font-size:17.5px;fill:#555;letter-spacing:-1.41px;">|i:i:|</text>
<text x="592.0" y="1185.2" style="font-size:17.5px;fill:#555;letter-spacing:-1.71px;">|i:i:|</text>
<text x="569.0" y="1185.2" style="font-size:17.5px;fill:#555;letter-spacing:-1.70px;">|:i</text>
<text x="537.4" y="1185.2" style="font-size:17.5px;fill:#555;">|</text>
<text x="481.4" y="1185.2" style="font-size:17.5px;fill:#555;">|</text>
<text x="484.5" y="1185.2">:</text>
<text x="621.5" y="1185.2" style="font-size:17.5px;fill:#555;letter-spacing:0.11px;">i|</text>
<text x="450.0" y="1185.2">:</text>
<text x="893.4" y="1185.2" style="font-size:17.5px;fill:#555;">|</text>
<text x="640.0" y="1185.2" style="font-size:17.5px;fill:#555;">|</text>
<text x="651.0" y="1185.2" style="font-size:17.5px;fill:#555;">|</text>
<text x="660.7" y="1185.2" style="font-size:17.5px;fill:#555;">|</text>
<text x="643.0" y="1185.2" style="letter-spacing:-1.22px;">::</text>
<text class="c" x="342.0" y="1185.2" style="font-size:13.5px;letter-spacing:4.82px;">::::::::</text>
<text x="237.0" y="1185.2" style="letter-spacing:-1.22px;">::</text>
<text x="262.0" y="1185.2" style="fill:#555;letter-spacing:-1.03px;">|i:i:i</text>
<text transform="translate(281.0 1183.2) scale(0.714 1)" x="-8.0" y="0">〈</text>
<text x="335.0" y="1185.2" style="letter-spacing:-2.22px;">,;</text>
<text transform="translate(408.0 1185.2) scale(0.600 1)" x="0.0" y="0">{</text>
<text class="c" x="411.0" y="1185.2" style="font-size:13.5px;letter-spacing:-0.75px;">::::</text>
<text x="455.0" y="1185.2" style="letter-spacing:0.87px;">VI</text>
<text class="d" x="663.5" y="1183.2" style="letter-spacing:-6.76px;">──</text>
<text x="663.5" y="1182.7" style="letter-spacing:-2.45px;">__</text>
<text transform="translate(681.5 1183.2) scale(0.654 1)" x="-1.0" y="0">∧</text>
<text x="690.5" y="1185.2">{</text>
<text transform="translate(710.5 1185.2) scale(1.100 1)" x="0.0" y="0">(</text>
<text class="d" transform="translate(715.0 1183.2) scale(0.867 1)" x="0.0" y="0">＼</text>
<text class="c" x="728.5" y="1185.2" style="font-size:13.5px;letter-spacing:-0.19px;">.:.:.:.:.:.:.:.:.:.:.:.:.:.</text>
<text transform="translate(830.0 1185.7) scale(0.933 1)" x="0.0" y="0" style="font-size:20px;">/</text>
<text transform="translate(837.0 1183.2) scale(0.875 1)" x="0.0" y="0">〉</text>
<text transform="translate(844.5 1183.2) scale(0.888 1)" x="0.0" y="0">〉</text>
<text x="851.0" y="1183.2">､</text>
<text x="858.5" y="1182.7" style="letter-spacing:-6.95px;">__</text>
<text transform="translate(870.5 1185.7) scale(0.983 1)" x="0.0" y="0" style="font-size:20px;">/</text>
<text class="b" transform="translate(879.0 1181.7) scale(0.750 1)" x="0.0" y="0" style="font-size:12.5px;">＼</text>
<text x="423.0" y="1202.3" style="font-size:17.5px;fill:#555;letter-spacing:-0.93px;">|i:i|i:|</text>
<text x="244.0" y="1202.3" style="font-size:17.5px;fill:#555;letter-spacing:-1.41px;">|i:i:|</text>
<text x="592.0" y="1202.3" style="font-size:17.5px;fill:#555;letter-spacing:-1.71px;">|i:i:|</text>
<text x="569.0" y="1202.3" style="font-size:17.5px;fill:#555;letter-spacing:-1.70px;">|:i</text>
<text x="537.4" y="1202.3" style="font-size:17.5px;fill:#555;">|</text>
<text x="621.5" y="1202.3" style="font-size:17.5px;fill:#555;letter-spacing:0.11px;">i|</text>
<text x="640.0" y="1202.3" style="font-size:17.5px;fill:#555;">|</text>
<text x="651.0" y="1202.3" style="font-size:17.5px;fill:#555;">|</text>
<text x="660.7" y="1202.3" style="font-size:17.5px;fill:#555;">|</text>
<text x="643.0" y="1202.3" style="letter-spacing:-1.22px;">::</text>
<text class="c" x="347.0" y="1202.3" style="font-size:13.5px;letter-spacing:5.25px;">::::</text>
<text class="c" x="236.0" y="1202.3" style="font-size:13.5px;letter-spacing:-1.75px;">.::</text>
<text x="262.0" y="1202.3" style="fill:#555;letter-spacing:-0.64px;">|i:i:i:i:</text>
<text transform="translate(290.5 1200.3) scale(0.650 1)" x="0.0" y="0">Δ</text>
<text transform="translate(339.0 1200.3) scale(0.615 1)" x="-1.0" y="0">∧</text>
<text transform="translate(380.0 1202.3) scale(1.000 1)" x="-1.0" y="0">r</text>
<text transform="translate(387.0 1200.3) scale(0.929 1)" x="0.0" y="0">＜</text>
<text transform="translate(450.0 1202.3) scale(1.000 1)" x="0.0" y="0">)</text>
<text transform="translate(460.0 1200.3) scale(1.200 1)" x="-1.0" y="0">｣</text>
<text class="b" transform="translate(467.0 1202.3) scale(0.778 1)" x="0.0" y="0">=</text>
<text x="475.0" y="1200.3" style="letter-spacing:-1.19px;">二二二</text>
<text class="b" x="478.0" y="1202.3" style="letter-spacing:-1.76px;">────</text>
<text x="518.0" y="1202.3" style="font-size:18px;">|</text>
<text x="522.0" y="1199.8" style="letter-spacing:-1.45px;">__</text>
<text x="681.0" y="1202.3" style="font-size:18px;">|</text>
<text transform="translate(684.0 1200.3) scale(1.231 1)" x="-1.0" y="0">∧</text>
<text transform="translate(700.0 1199.8) scale(0.900 1)" x="1.0" y="0">_</text>
<text class="d" transform="translate(710.5 1200.3) scale(1.167 1)" x="0.0" y="0">＼</text>
<text transform="translate(726.5 1200.3) scale(1.036 1)" x="-1.0" y="0">＞</text>
<text class="d" x="753.7" y="1200.3" style="letter-spacing:0.54px;">──</text>
<text class="b" transform="translate(800.7 1200.3) scale(1.100 1)" x="-1.0" y="0">二</text>
<text transform="translate(821.0 1202.8) scale(1.167 1)" x="0.0" y="0" style="font-size:20px;">/</text>
<text x="831.0" y="1202.3" style="letter-spacing:5.78px;">//</text>
<text transform="translate(848.0 1200.3) scale(1.143 1)" x="0.0" y="0">ﾆ</text>
<text x="855.5" y="1202.3" style="letter-spacing:-3.72px;">::</text>
<text x="858.5" y="1202.3" style="font-size:18px;">|</text>
<text transform="translate(863.0 1202.8) scale(1.000 1)" x="0.0" y="0" style="font-size:20px;">/</text>
<text transform="translate(883.6 1202.8) scale(0.983 1)" x="0.0" y="0" style="font-size:20px;">/</text>
<text class="b" transform="translate(889.5 1200.3) scale(1.000 1)" x="-1.0" y="0">二</text>
<text x="423.0" y="1219.4" style="font-size:17.5px;fill:#555;letter-spacing:-0.93px;">|i:i|i:|</text>
<text x="592.0" y="1219.4" style="font-size:17.5px;fill:#555;letter-spacing:-1.71px;">|i:i:|</text>
<text x="193.0" y="1216.9" style="letter-spacing:-5.45px;">__</text>
<text transform="translate(208.0 1217.4) scale(0.909 1)" x="0.0" y="0">Ω</text>
<text class="d" x="223.0" y="1217.4" style="letter-spacing:-0.76px;">───</text>
<text x="245.0" y="1208.9" style="font-size:10px;">|</text>
<text transform="translate(256.0 1217.4) scale(0.786 1)" x="0.0" y="0">＜</text>
<text transform="translate(268.0 1217.4) scale(1.133 1)" x="0.0" y="0">⌒</text>
<text x="303.0" y="1219.4" style="letter-spacing:3.61px;">----</text>
<text x="345.0" y="1217.4">└</text>
<text class="d" x="356.0" y="1217.4" style="letter-spacing:-2.76px;">───</text>
<text transform="translate(384.0 1217.4) scale(1.000 1)" x="-4.0" y="0">ゝ</text>
<text x="396.0" y="1216.9" style="letter-spacing:-4.45px;">__</text>
<text class="b" transform="translate(404.0 1217.4) scale(1.231 1)" x="-1.0" y="0">二</text>
<text x="452.0" y="1217.4" style="letter-spacing:-1.76px;">─-</text>
<text x="479.0" y="1209.4" style="font-size:11px;letter-spacing:-1.06px;">,,〃</text>
<text class="c" x="508.0" y="1219.4" style="font-size:13.5px;letter-spacing:0.75px;">:::.:.::::.</text>
<text class="b" x="557.0" y="1217.4" style="letter-spacing:-5.19px;">二二</text>
<text class="b" transform="translate(583.0 1219.4) scale(0.778 1)" x="0.0" y="0">=</text>
<text x="613.0" y="1217.4" style="letter-spacing:-5.26px;">─┴─</text>
<text transform="translate(636.0 1219.9) scale(1.000 1)" x="0.0" y="0" style="font-size:20px;">/</text>
<text x="644.0" y="1216.9">_</text>
<text transform="translate(649.5 1217.4) scale(0.720 1)" x="0.0" y="0">Δ</text>
<text class="d" x="660.6" y="1217.4" style="letter-spacing:-3.86px;">──</text>
<text transform="translate(681.5 1217.4) scale(0.918 1)" x="-2.0" y="0">Ｖ</text>
<text x="693.0" y="1217.4">''</text>
<text x="710.7" y="1217.4" style="letter-spacing:-1.94px;">･･･</text>
<text x="729.0" y="1217.4" style="letter-spacing:-5.53px;">─-──</text>
<text class="b" transform="translate(775.0 1217.4) scale(1.000 1)" x="-1.0" y="0">二</text>
<text x="792.0" y="1216.9" style="letter-spacing:-3.95px;">__</text>
<text x="806.5" y="1218.4" style="letter-spacing:-0.65px;">'''</text>
<text x="809.7" y="1216.9" style="letter-spacing:-2.15px;">__</text>
<text class="b" transform="translate(828.4 1217.4) scale(0.857 1)" x="0.0" y="0">￢</text>
<text x="841.6" y="1217.4" style="letter-spacing:-2.54px;">･･･</text>
<text transform="translate(859.0 1219.4) scale(0.600 1)" x="0.0" y="0">{</text>
<text transform="translate(875.0 1219.9) scale(1.167 1)" x="0.0" y="0" style="font-size:20px;">/</text>
<text x="881.0" y="1219.4" style="fill:#555;letter-spacing:-0.91px;">i:i:i:</text>
<text x="423.0" y="1236.5" style="font-size:17.5px;fill:#555;letter-spacing:-0.93px;">|i:i|i:|</text>
<text x="592.0" y="1236.5" style="font-size:17.5px;fill:#555;letter-spacing:-1.71px;">|i:i:|</text>
<text transform="translate(192.0 1234.5) scale(1.000 1)" x="-1.0" y="0">二</text>
<text class="c" x="204.0" y="1228.5" style="letter-spacing:0.28px;">.....</text>
<text class="d" transform="translate(228.0 1228.5) scale(1.000 1)" x="1.0" y="0">─</text>
<text x="245.0" y="1234.5" style="letter-spacing:-14.19px;">￣￣</text>
<text x="268.0" y="1236.5" style="font-size:18px;">|</text>
<text transform="translate(286.0 1234.5) scale(1.000 1)" x="0.0" y="0">￣</text>
<text x="310.0" y="1234.5" style="letter-spacing:-7.19px;">￣￣</text>
<text transform="translate(328.0 1234.5) scale(0.778 1)" x="-3.0" y="0">７</text>
<text x="346.0" y="1229.5" style="letter-spacing:0.78px;">::</text>
<text class="d" transform="translate(360.0 1234.5) scale(1.000 1)" x="0.0" y="0">／</text>
<text x="377.0" y="1233.5" style="letter-spacing:3.17px;">..--</text>
<text class="d" x="401.0" y="1234.5" style="letter-spacing:-5.76px;">───</text>
<text class="c" x="450.0" y="1236.5" style="font-size:13.5px;letter-spacing:4.25px;">:::</text>
<text x="452.0" y="1234.0" style="letter-spacing:-3.45px;">__</text>
<text x="475.0" y="1236.5" style="letter-spacing:-2.33px;">_,,</text>
<text transform="translate(498.0 1236.5) scale(1.200 1)" x="0.0" y="0">-</text>
<text class="b" transform="translate(505.0 1236.5) scale(0.778 1)" x="0.0" y="0">=</text>
<text class="c" x="535.0" y="1236.5" style="font-size:13.5px;letter-spacing:3.75px;">:::::</text>
<text class="c" x="569.0" y="1236.5" style="font-size:13.5px;letter-spacing:-1.08px;">::::</text>
<text x="584.0" y="1236.5" style="letter-spacing:-1.22px;">::</text>
<text x="681.5" y="1234.5">└</text>
<text class="d" x="693.0" y="1234.5" style="letter-spacing:0.24px;">───</text>
<text class="c" x="749.0" y="1236.5" style="letter-spacing:-1.89px;">,,,,,,,</text>
<text x="767.0" y="1234.0" style="letter-spacing:-1.95px;">__</text>
<text x="789.0" y="1234.0" style="letter-spacing:-0.95px;">__</text>
<text x="828.4" y="1232.5" style="font-size:10px;letter-spacing:-0.35px;">"""""""""</text>
<text transform="translate(865.5 1237.0) scale(1.083 1)" x="0.0" y="0" style="font-size:20px;">/</text>
<text x="872.0" y="1236.5" style="fill:#555;letter-spacing:-0.74px;">i:i:i:i:</text>
<text x="423.0" y="1253.6" style="font-size:17.5px;fill:#555;letter-spacing:-0.93px;">|i:i|i:|</text>
<text class="c" x="466.0" y="1253.6" style="font-size:13.5px;letter-spacing:4.52px;">::::::::::::</text>
<text class="c" x="366.0" y="1253.6" style="font-size:13.5px;letter-spacing:3.96px;">::::::::</text>
<text x="260.0" y="1253.6" style="font-size:17.5px;fill:#555;">|</text>
<text x="268.7" y="1253.6" style="font-size:17.5px;fill:#555;">|</text>
<text class="c" x="204.7" y="1239.6" style="font-size:13.5px;letter-spacing:-0.37px;">:::::::</text>
<text transform="translate(227.5 1241.6) scale(0.887 1)" x="0.0" y="0">━</text>
<text transform="translate(243.0 1244.6) scale(1.000 1)" x="0.0" y="0">-</text>
<text x="191.6" y="1251.6">Γ</text>
<text x="208.0" y="1251.6" style="letter-spacing:-14.19px;">￣￣</text>
<text x="226.0" y="1253.6" style="font-size:18px;">|</text>
<text x="224.0" y="1251.1" style="letter-spacing:-4.78px;">____</text>
<text x="231.0" y="1253.6" style="letter-spacing:-1.22px;">::</text>
<text class="c" x="244.0" y="1253.6" style="font-size:13.5px;letter-spacing:-0.08px;">::::</text>
<text transform="translate(294.0 1253.6) scale(0.900 1)" x="0.0" y="0">}</text>
<text x="323.0" y="1253.6">'</text>
<text transform="translate(355.0 1254.1) scale(1.117 1)" x="0.0" y="0" style="font-size:20px;">/</text>
<text class="c" x="191.0" y="1253.6" style="letter-spacing:11.28px;">...</text>
<text class="c" x="563.0" y="1253.6" style="font-size:13.5px;letter-spacing:-0.75px;">::::</text>
<text x="581.0" y="1253.6" style="letter-spacing:-0.22px;">::</text>
<text transform="translate(591.0 1251.6) scale(0.538 1)" x="-1.0" y="0">∧</text>
<text x="598.0" y="1253.6" style="fill:#555;letter-spacing:0.20px;">i:|</text>
<text class="d" x="839.0" y="1251.6" style="letter-spacing:-6.16px;">──</text>
<text transform="translate(854.6 1251.6) scale(0.600 1)" x="0.0" y="0">＜</text>
<text class="d" transform="translate(864.4 1251.6) scale(0.947 1)" x="0.0" y="0">＼</text>
<text transform="translate(879.6 1253.6) scale(0.880 1)" x="0.0" y="0">(</text>
<text class="d" transform="translate(890.0 1251.6) scale(0.800 1)" x="0.0" y="0">＼</text>
<text x="423.0" y="1270.7" style="font-size:17.5px;fill:#555;letter-spacing:-0.93px;">|i:i|i:|</text>
<text class="c" x="450.0" y="1270.7" style="font-size:13.5px;letter-spacing:4.50px;">:::::::::::::</text>
<text class="c" x="370.0" y="1270.7" style="font-size:13.5px;letter-spacing:4.58px;">:::::::</text>
<text x="260.0" y="1270.7" style="font-size:17.5px;fill:#555;">|</text>
<text x="268.7" y="1270.7" style="font-size:17.5px;fill:#555;">|</text>
<text class="d" transform="translate(192.6 1268.7) scale(1.000 1)" x="1.0" y="0">─</text>
<text x="217.7" y="1265.7" style="letter-spacing:-1.60px;">''</text>
<text class="c" x="238.5" y="1270.7" style="font-size:13.5px;letter-spacing:-0.05px;">::::</text>
<text x="269.5" y="1268.7">｀</text>
<text transform="translate(280.0 1270.7) scale(1.000 1)" x="-1.0" y="0">r</text>
<text transform="translate(286.5 1271.2) scale(1.083 1)" x="0.0" y="0" style="font-size:20px;">/</text>
<text transform="translate(312.6 1271.2) scale(0.900 1)" x="0.0" y="0" style="font-size:20px;">/</text>
<text transform="translate(353.0 1270.7) scale(0.600 1)" x="0.0" y="0">}</text>
<text class="c" x="356.0" y="1270.7" style="font-size:13.5px;letter-spacing:-0.75px;">::::</text>
<text transform="translate(550.0 1268.2) scale(0.600 1)" x="1.0" y="0">_</text>
<text class="c" x="556.0" y="1270.7" style="letter-spacing:-1.72px;">,,,</text>
<text transform="translate(570.0 1268.7) scale(1.455 1)" x="-2.0" y="0">Ｔ</text>
<text transform="translate(592.0 1268.7) scale(0.857 1)" x="-1.0" y="0">Γ</text>
<text transform="translate(599.0 1270.7) scale(0.600 1)" x="0.0" y="0">}</text>
<text x="603.0" y="1270.7">:</text>
<text x="607.0" y="1270.7" style="font-size:18px;">|</text>
<text transform="translate(806.0 1270.7) scale(1.000 1)" x="-1.0" y="0">r</text>
<text transform="translate(811.0 1268.7) scale(1.000 1)" x="0.0" y="0">◇</text>
<text transform="translate(828.4 1268.7) scale(0.943 1)" x="0.0" y="0">ｵ</text>
<text class="d" transform="translate(870.0 1268.7) scale(1.000 1)" x="0.0" y="0">＼</text>
<text transform="translate(889.5 1270.7) scale(0.900 1)" x="0.0" y="0">)</text>
<text transform="translate(900.0 1270.7) scale(1.000 1)" x="0.0" y="0">)</text>
<text x="907.0" y="1270.7">'</text>
<text x="423.0" y="1287.8" style="font-size:17.5px;fill:#555;letter-spacing:-0.93px;">|i:i|i:|</text>
<text class="c" x="450.0" y="1287.8" style="font-size:13.5px;letter-spacing:4.39px;">::::::::</text>
<text class="c" x="356.4" y="1287.8" style="font-size:13.5px;letter-spacing:4.20px;">:::::::::</text>
<text x="260.0" y="1287.8" style="font-size:17.5px;fill:#555;">|</text>
<text x="268.7" y="1287.8" style="font-size:17.5px;fill:#555;">|</text>
<text class="c" x="191.6" y="1287.8" style="font-size:13.5px;letter-spacing:-0.87px;">:::::::::::::::::::::::</text>
<text transform="translate(279.0 1287.8) scale(1.000 1)" x="0.0" y="0">)</text>
<text x="285.0" y="1285.8" style="letter-spacing:-15.59px;">￣￣</text>
<text transform="translate(307.0 1288.3) scale(1.117 1)" x="0.0" y="0" style="font-size:20px;">/</text>
<text transform="translate(315.0 1285.8) scale(1.364 1)" x="-2.0" y="0">Ｔ</text>
<text transform="translate(342.0 1285.3) scale(0.660 1)" x="1.0" y="0">_</text>
<text x="348.0" y="1287.8" style="font-size:18px;">|</text>
<text transform="translate(351.0 1287.8) scale(0.600 1)" x="0.0" y="0">{</text>
<text x="510.0" y="1287.8" style="letter-spacing:-2.83px;">_,,</text>
<text transform="translate(526.0 1285.8) scale(1.455 1)" x="-2.0" y="0">Ｔ</text>
<text transform="translate(548.0 1287.8) scale(0.600 1)" x="0.0" y="0">{</text>
<text transform="translate(563.0 1287.8) scale(0.600 1)" x="0.0" y="0">{</text>
<text x="578.6" y="1287.8" style="font-size:18px;">|</text>
<text x="581.0" y="1285.3" style="letter-spacing:-4.45px;">__</text>
<text x="592.6" y="1287.8" style="font-size:18px;">|</text>
<text transform="translate(596.0 1287.8) scale(1.000 1)" x="0.0" y="0">-</text>
<text x="603.0" y="1280.8" style="font-size:11px;letter-spacing:-2.06px;">,〃</text>
<text class="c" x="737.0" y="1287.8" style="letter-spacing:-2.04px;">,,,,,</text>
<text x="749.7" y="1285.3" style="letter-spacing:-0.39px;">______</text>
<text transform="translate(810.0 1287.8) scale(0.800 1)" x="0.0" y="0">)</text>
<text x="815.0" y="1285.3" style="letter-spacing:-1.95px;">__</text>
<text transform="translate(826.0 1287.8) scale(0.900 1)" x="0.0" y="0">(</text>
<text x="831.5" y="1285.3" style="letter-spacing:-2.70px;">___</text>
<text x="890.0" y="1287.8" style="font-size:18px;">|</text>
<text x="890.0" y="1283.8" style="letter-spacing:-2.19px;">｀¨</text>
<text x="423.0" y="1304.9" style="font-size:17.5px;fill:#555;letter-spacing:-0.93px;">|i:i|i:|</text>
<text x="260.0" y="1304.9" style="font-size:17.5px;fill:#555;">|</text>
<text x="268.7" y="1304.9" style="font-size:17.5px;fill:#555;">|</text>
<text class="c" x="191.6" y="1304.9" style="font-size:13.5px;letter-spacing:-0.05px;">::::</text>
<text x="206.0" y="1305.9" style="letter-spacing:0.78px;">::</text>
<text x="226.0" y="1302.9" style="letter-spacing:-2.26px;">─-</text>
<text transform="translate(251.5 1298.9) scale(0.722 1)" x="0.0" y="0">~</text>
<text x="262.0" y="1302.4" style="letter-spacing:-9.45px;">__</text>
<text x="272.0" y="1299.9" style="letter-spacing:-7.19px;">⌒ヽ</text>
<text transform="translate(293.0 1302.9) scale(0.857 1)" x="0.0" y="0">＜</text>
<text transform="translate(307.0 1302.9) scale(1.833 1)" x="-3.0" y="0">丿</text>
<text transform="translate(346.5 1304.9) scale(0.700 1)" x="0.0" y="0">}</text>
<text x="353.0" y="1304.9">'</text>
<text class="b" transform="translate(359.6 1301.4) scale(0.700 1)" x="0.0" y="0" style="font-size:12.5px;">＼</text>
<text x="370.0" y="1302.9">､</text>
<text class="c" x="377.0" y="1304.9" style="font-size:13.5px;letter-spacing:1.25px;">:::</text>
<text class="c" x="394.0" y="1304.9" style="font-size:13.5px;letter-spacing:0.25px;">:::</text>
<text transform="translate(407.6 1305.4) scale(0.900 1)" x="0.0" y="0" style="font-size:20px;">/</text>
<text x="415.0" y="1304.9">:</text>
<text x="455.0" y="1304.9" style="letter-spacing:-2.22px;">: :_</text>
<text x="471.0" y="1304.9" style="letter-spacing:-1.22px;">,,</text>
<text class="d" transform="translate(483.0 1302.9) scale(0.583 1)" x="1.0" y="0">─</text>
<text transform="translate(490.0 1304.9) scale(1.250 1)" x="-1.0" y="0">r</text>
<text x="497.0" y="1299.9" style="letter-spacing:-0.90px;">'"</text>
<text transform="translate(508.0 1304.9) scale(0.600 1)" x="0.0" y="0">}</text>
<text x="517.0" y="1304.9" style="font-size:18px;">i</text>
<text x="532.6" y="1304.9" style="font-size:18px;">|</text>
<text x="548.0" y="1304.9" style="font-size:18px;">|</text>
<text x="550.0" y="1302.4" style="letter-spacing:-11.45px;">__</text>
<text x="556.0" y="1304.9" style="letter-spacing:-2.22px;">,,</text>
<text x="568.0" y="1297.9" style="font-size:11px;letter-spacing:-2.06px;">,〃</text>
<text transform="translate(703.0 1302.9) scale(0.625 1)" x="0.0" y="0">γ</text>
<text class="c" x="714.0" y="1304.9" style="font-size:13.5px;letter-spacing:0.62px;">:::::</text>
<text class="d" transform="translate(735.6 1302.9) scale(0.733 1)" x="1.0" y="0">─</text>
<text transform="translate(744.4 1302.9) scale(0.950 1)" x="-5.0" y="0">ト</text>
<text x="753.0" y="1302.9">､</text>
<text class="d" transform="translate(758.5 1302.9) scale(1.100 1)" x="0.0" y="0">＼</text>
<text x="859.0" y="1302.9">｀</text>
<text x="868.0" y="1302.9">ヽ</text>
<text x="877.0" y="1306.9">ヽ</text>
<text x="890.0" y="1304.9" style="font-size:18px;">|</text>
<text x="423.0" y="1322.0" style="font-size:17.5px;fill:#555;letter-spacing:-0.93px;">|i:i|i:|</text>
<text x="192.6" y="1315.0" style="font-size:11px;letter-spacing:-2.66px;">,〃</text>
<text x="312.0" y="1320.0">｀</text>
<text x="326.0" y="1322.0">'</text>
<text transform="translate(333.0 1320.0) scale(0.964 1)" x="0.0" y="0">＜</text>
<text x="377.5" y="1320.0">｀</text>
<text transform="translate(388.0 1322.0) scale(1.000 1)" x="0.0" y="0">Y</text>
<text x="398.0" y="1322.0">:</text>
<text transform="translate(402.0 1322.5) scale(0.933 1)" x="0.0" y="0" style="font-size:20px;">/</text>
<text x="409.0" y="1322.0">:</text>
<text x="415.0" y="1322.0" style="letter-spacing:-0.22px;">::</text>
<text x="451.0" y="1320.0" style="letter-spacing:-16.19px;">￣￣</text>
<text x="468.0" y="1322.0" style="font-size:18px;">|</text>
<text transform="translate(489.0 1320.0) scale(0.833 1)" x="-1.0" y="0">ﾉ</text>
<text x="507.0" y="1322.0" style="font-size:18px;">|</text>
<text x="509.0" y="1319.5" style="letter-spacing:-3.45px;">__</text>
<text x="521.6" y="1322.0" style="font-size:18px;">|</text>
<text x="525.0" y="1320.0" style="letter-spacing:-2.76px;">─-</text>
<text x="540.0" y="1315.0" style="font-size:11px;letter-spacing:-1.06px;">,〃</text>
<text transform="translate(702.0 1322.0) scale(0.600 1)" x="0.0" y="0">(</text>
<text class="c" x="705.0" y="1322.0" style="font-size:13.5px;letter-spacing:-0.75px;">:::::::::</text>
<text x="706.0" y="1322.0" style="letter-spacing:-5.19px;">￣￣</text>
<text x="733.0" y="1322.0" style="font-size:18px;">|</text>
<text x="731.7" y="1320.0" style="letter-spacing:-0.89px;">｀´</text>
<text x="753.0" y="1322.0" style="font-size:18px;">|</text>
<text class="d" transform="translate(756.0 1320.0) scale(1.133 1)" x="0.0" y="0">＼</text>
<text class="d" transform="translate(773.0 1320.0) scale(1.000 1)" x="0.0" y="0">＼</text>
<text x="790.0" y="1322.0" style="font-size:18px;">|</text>
<text x="792.5" y="1320.0" style="letter-spacing:-1.54px;">三三三三三三三</text>
<text x="890.0" y="1322.0" style="font-size:18px;">|</text>
<text x="423.0" y="1339.1" style="font-size:17.5px;fill:#555;letter-spacing:-0.93px;">|i:i|i:|</text>
<text x="358.5" y="1334.1" style="letter-spacing:-4.37px;">~'</text>
<text transform="translate(370.5 1337.1) scale(0.936 1)" x="0.0" y="0">＜</text>
<text transform="translate(383.6 1337.1) scale(1.817 1)" x="-3.0" y="0">丿</text>
<text transform="translate(395.5 1337.1) scale(0.938 1)" x="-3.0" y="0">く</text>
<text class="c" x="404.0" y="1339.1" style="font-size:13.5px;letter-spacing:4.25px;">:::</text>
<text x="468.0" y="1339.1" style="font-size:18px;">|</text>
<text x="485.0" y="1339.1" style="letter-spacing:-6.45px;">_|</text>
<text x="491.0" y="1337.1" style="letter-spacing:-1.76px;">─-</text>
<text x="508.0" y="1339.1">'</text>
<text class="d" transform="translate(703.0 1337.1) scale(1.067 1)" x="0.0" y="0">＼</text>
<text class="c" x="720.5" y="1339.1" style="font-size:13.5px;letter-spacing:-0.00px;">:::</text>
<text transform="translate(734.5 1337.1) scale(0.577 1)" x="-1.0" y="0">⊃</text>
<text x="745.5" y="1339.1" style="letter-spacing:1.44px;">-'</text>
<text class="d" transform="translate(756.0 1337.1) scale(1.040 1)" x="0.0" y="0">＼</text>
<text class="d" transform="translate(773.0 1337.1) scale(1.000 1)" x="0.0" y="0">＼</text>
<text transform="translate(788.0 1339.1) scale(0.800 1)" x="0.0" y="0">{</text>
<text x="792.5" y="1337.1" style="letter-spacing:-1.12px;">三三三三三三三三</text>
<text x="266.0" y="978.0" style="letter-spacing:-14.19px;">￣￣</text>
<text transform="translate(296.0 980.0) scale(1.000 1)" x="0.0" y="0">-</text>
<text transform="translate(325.0 985.0) scale(1.000 1)" x="0.0" y="0">-</text>
<text transform="translate(419.0 977.5) scale(0.500 1)" x="1.0" y="0">_</text>
<text x="423.0" y="980.0" style="font-size:17px;letter-spacing:0.01px;">rrrx</text>
<text x="491.0" y="978.0">｀</text>
<text x="502.0" y="978.0">ヽ</text>
<text x="520.0" y="978.0">､</text>
<text transform="translate(811.0 978.0) scale(1.045 1)" x="-2.0" y="0">Ｖ</text>
<text x="298.0" y="1538.5">_</text>
<text class="c" x="301.0" y="1541.0" style="letter-spacing:-0.22px;">,,,,</text>
<text class="d" x="319.0" y="1539.0" style="letter-spacing:-1.43px;">────</text>
<text class="c" x="358.5" y="1541.0" style="letter-spacing:-0.59px;">,,,,,</text>
<text x="378.0" y="1538.5" style="letter-spacing:-4.45px;">__</text>
<text x="768.0" y="1538.5" style="letter-spacing:-1.45px;">__</text>
<text transform="translate(785.0 1541.0) scale(1.000 1)" x="-1.0" y="0">r</text>
<text class="d" transform="translate(791.0 1539.0) scale(0.500 1)" x="1.0" y="0">─</text>
<text x="795.0" y="1541.0">ヽ</text>
<text class="c" x="804.0" y="1541.0" style="letter-spacing:-2.42px;">,,,,,,</text>
<text x="818.0" y="1538.5" style="letter-spacing:-7.45px;">__</text>
<text transform="translate(829.0 1541.5) scale(1.000 1)" x="0.0" y="0" style="font-size:20px;">/</text>
<text class="b" transform="translate(837.0 1537.5) scale(0.667 1)" x="0.0" y="0" style="font-size:12.5px;">＼</text>
<text x="270.0" y="1558.1">,</text>
<text transform="translate(273.0 1558.1) scale(1.500 1)" x="-1.0" y="0">r</text>
<text x="280.0" y="1555.1" style="letter-spacing:1.10px;">''</text>
<text class="c" x="293.0" y="1559.1" style="font-size:13.5px;letter-spacing:-1.01px;">:.:.:.:.:.:.:.:.:.:.:.:.:.:.:.:.:.:.</text>
<text x="395.5" y="1558.1">'</text>
<text x="403.0" y="1556.1">､</text>
<text transform="translate(738.0 1555.6) scale(0.900 1)" x="1.0" y="0">_</text>
<text transform="translate(760.0 1558.6) scale(1.000 1)" x="0.0" y="0" style="font-size:20px;">/</text>
<text transform="translate(789.0 1556.1) scale(0.786 1)" x="-1.0" y="0">＞</text>
<text x="801.0" y="1556.1">､</text>
<text class="b" transform="translate(811.0 1554.6) scale(0.583 1)" x="0.0" y="0" style="font-size:12.5px;">＼</text>
<text class="b" transform="translate(820.0 1554.6) scale(0.667 1)" x="0.0" y="0" style="font-size:12.5px;">＼</text>
<text transform="translate(837.0 1556.1) scale(1.125 1)" x="-5.0" y="0">ト</text>
<text x="848.0" y="1558.1" style="font-size:18px;">!</text>
<text class="c" x="853.0" y="1558.1" style="letter-spacing:-2.42px;">,,,,,,</text>
<text x="875.0" y="1555.6" style="letter-spacing:-2.45px;">__</text>
<text x="899.0" y="1555.6" style="letter-spacing:-3.45px;">__</text>
<text transform="translate(259.0 1575.7) scale(1.100 1)" x="0.0" y="0" style="font-size:20px;">/</text>
<text class="c" x="265.0" y="1576.2" style="font-size:13.5px;letter-spacing:-1.02px;">:.:.:.:.:.:.:.:.:.:.:.:.:.:.:.:.:.:.:.:.:.</text>
<text x="376.0" y="1573.2">｀</text>
<text transform="translate(388.0 1573.2) scale(1.091 1)" x="-4.0" y="0" style="font-size:18px;">ヾ</text>
<text class="c" x="399.0" y="1575.2" style="font-size:13.5px;letter-spacing:-1.00px;">:::</text>
<text x="415.0" y="1573.2">､</text>
<text transform="translate(725.0 1575.2) scale(0.875 1)" x="0.0" y="0">y</text>
<text x="734.0" y="1575.2">'</text>
<text x="746.0" y="1575.2" style="font-size:18px;">i</text>
<text class="b" x="751.0" y="1573.2" style="letter-spacing:3.41px;">ﾆﾆ</text>
<text transform="translate(771.0 1575.2) scale(1.000 1)" x="-1.0" y="0">r</text>
<text x="777.0" y="1573.2">､</text>
<text class="b" transform="translate(785.0 1571.7) scale(0.667 1)" x="0.0" y="0" style="font-size:12.5px;">＼</text>
<text x="796.0" y="1573.2">｀</text>
<text x="805.0" y="1576.2">ヽ</text>
<text transform="translate(816.0 1573.2) scale(0.909 1)" x="-4.0" y="0" style="font-size:18px;">ヾ</text>
<text x="826.0" y="1566.2" style="letter-spacing:-1.11px;">,,''</text>
<text class="b" transform="translate(915.0 1571.7) scale(0.583 1)" x="0.0" y="0" style="font-size:12.5px;">＼</text>
<text x="248.0" y="1592.3">,</text>
<text transform="translate(251.5 1592.8) scale(1.083 1)" x="0.0" y="0" style="font-size:20px;">/</text>
<text class="c" x="258.0" y="1593.3" style="font-size:13.5px;letter-spacing:-1.03px;">:.:.:.:.:.:.:.:.:.:.:.:.:.</text>
<text transform="translate(330.0 1590.3) scale(1.091 1)" x="-4.0" y="0" style="font-size:18px;">ヾ</text>
<text x="343.0" y="1590.3">､</text>
<text class="c" x="346.5" y="1592.3" style="font-size:13.5px;letter-spacing:0.70px;">:::</text>
<text transform="translate(360.6 1590.3) scale(1.091 1)" x="-4.0" y="0" style="font-size:18px;">ヾ</text>
<text class="c" x="372.0" y="1592.3" style="font-size:13.5px;letter-spacing:-0.83px;">:::::</text>
<text x="389.0" y="1592.3">'</text>
<text x="391.0" y="1592.3">ヽ</text>
<text x="402.0" y="1592.3">'</text>
<text x="404.5" y="1592.3">ヽ</text>
<text x="414.0" y="1592.3">:</text>
<text class="b" transform="translate(420.6 1588.8) scale(0.617 1)" x="0.0" y="0" style="font-size:12.5px;">＼</text>
<text transform="translate(687.5 1589.8) scale(0.720 1)" x="1.0" y="0">_</text>
<text transform="translate(697.0 1592.3) scale(1.000 1)" x="-1.0" y="0">r</text>
<text x="703.6" y="1590.3" style="letter-spacing:-7.36px;">─-</text>
<text x="712.0" y="1584.3" style="letter-spacing:-2.22px;">,,</text>
<text x="719.5" y="1592.3">'</text>
<text x="726.0" y="1592.3">,</text>
<text x="780.0" y="1590.3" style="letter-spacing:-3.19px;">｀´</text>
<text x="772.0" y="1592.3">:</text>
<text x="815.0" y="1592.3" style="letter-spacing:-0.79px;">|::|</text>
<text class="b" transform="translate(890.0 1588.8) scale(0.583 1)" x="0.0" y="0" style="font-size:12.5px;">＼</text>
<text x="899.0" y="1590.3">､</text>
<text x="906.0" y="1592.3" style="font-size:18px;">i</text>
<text transform="translate(911.0 1590.3) scale(0.857 1)" x="0.0" y="0">＜</text>
<text x="241.7" y="1609.4" style="font-size:18px;">i</text>
<text class="c" x="244.0" y="1610.4" style="font-size:13.5px;letter-spacing:-0.98px;">:.:.:.:.:.:.:.:.:.:.:.:.:.:.:.:.:.:.</text>
<text x="347.5" y="1609.4">'</text>
<text transform="translate(355.0 1607.4) scale(1.091 1)" x="-4.0" y="0" style="font-size:18px;">ヾ</text>
<text x="368.0" y="1607.4">､</text>
<text x="372.0" y="1609.4">'</text>
<text x="375.0" y="1607.4">ヽ</text>
<text class="c" x="385.7" y="1609.4" style="font-size:13.5px;letter-spacing:-0.68px;">,,:::</text>
<text transform="translate(404.0 1607.4) scale(0.818 1)" x="-4.0" y="0" style="font-size:18px;">ヾ</text>
<text x="413.0" y="1609.4" style="font-size:18px;">!</text>
<text class="b" transform="translate(420.6 1605.9) scale(0.617 1)" x="0.0" y="0" style="font-size:12.5px;">＼</text>
<text x="428.0" y="1609.4" style="font-size:18px;">!</text>
<text x="630.0" y="1609.4" style="letter-spacing:-0.72px;">,,</text>
<text transform="translate(637.0 1609.4) scale(1.125 1)" x="-1.0" y="0">r</text>
<text class="d" x="644.0" y="1607.4" style="letter-spacing:-5.76px;">──</text>
<text class="c" x="659.0" y="1606.4" style="letter-spacing:-1.22px;">,,,,,</text>
<text x="678.7" y="1609.4">'</text>
<text x="699.5" y="1609.4">,</text>
<text x="715.0" y="1609.4">'</text>
<text x="813.0" y="1609.4" style="font-size:18px;">i</text>
<text x="821.0" y="1609.4" style="font-size:18px;">|</text>
<text x="825.0" y="1609.4">'</text>
<text class="b" transform="translate(833.0 1605.9) scale(0.583 1)" x="0.0" y="0" style="font-size:12.5px;">＼</text>
<text x="841.0" y="1607.4">､</text>
<text class="b" transform="translate(878.0 1605.9) scale(0.583 1)" x="0.0" y="0" style="font-size:12.5px;">＼</text>
<text x="900.0" y="1609.4" style="font-size:18px;">!</text>
<text x="901.0" y="1607.4" style="letter-spacing:-2.19px;">｀´</text>
<text x="808.0" y="1606.9" style="letter-spacing:-3.45px;">__</text>
<text x="851.0" y="1606.9" style="letter-spacing:1.55px;">__</text>
<text transform="translate(892.0 1606.9) scale(0.900 1)" x="1.0" y="0">_</text>
<text x="240.6" y="1626.5" style="font-size:18px;">!</text>
<text class="c" x="244.0" y="1627.5" style="font-size:13.5px;letter-spacing:-1.02px;">:.:.:.:.:.:.:.:.:.:.:.:.:.:.:.:.:</text>
<text x="331.4" y="1627.5">ヽ</text>
<text transform="translate(341.0 1624.5) scale(1.091 1)" x="-4.0" y="0" style="font-size:18px;">ヾ</text>
<text class="c" x="352.0" y="1626.5" style="font-size:13.5px;letter-spacing:0.25px;">,,:</text>
<text x="368.0" y="1626.5">'</text>
<text x="368.5" y="1626.5">ヽ</text>
<text x="383.0" y="1626.5">'</text>
<text transform="translate(388.0 1624.5) scale(1.091 1)" x="-4.0" y="0" style="font-size:18px;">ヾ</text>
<text x="400.0" y="1624.5">､</text>
<text x="404.0" y="1626.5">:</text>
<text transform="translate(409.6 1626.5) scale(1.080 1)" x="0.0" y="0">f</text>
<text x="416.0" y="1624.0">_</text>
<text x="420.6" y="1626.5">)</text>
<text x="425.0" y="1624.5">､</text>
<text class="d" transform="translate(613.0 1624.5) scale(1.200 1)" x="0.0" y="0">／</text>
<text x="686.5" y="1626.5">,</text>
<text transform="translate(779.0 1626.5) scale(1.000 1)" x="-1.0" y="0">r</text>
<text transform="translate(785.0 1626.5) scale(1.200 1)" x="0.0" y="0">-</text>
<text x="793.0" y="1626.5">'</text>
<text transform="translate(795.0 1624.5) scale(0.889 1)" x="-3.0" y="0">７</text>
<text x="805.0" y="1626.5">'</text>
<text x="856.0" y="1624.5">｀</text>
<text x="868.0" y="1624.5">､</text>
<text transform="translate(877.0 1624.5) scale(0.909 1)" x="-4.0" y="0" style="font-size:18px;">ヾ</text>
<text transform="translate(896.0 1624.5) scale(1.167 1)" x="-1.0" y="0">ﾉ</text>
<text transform="translate(889.0 1624.0) scale(0.900 1)" x="1.0" y="0">_</text>
<text x="240.6" y="1643.6" style="font-size:18px;">!</text>
<text class="c" x="246.0" y="1644.6" style="font-size:13.5px;letter-spacing:-1.03px;">:.:.:.:.:.:.:.:.:.:.:.:.:.:.:.:.:.</text>
<text transform="translate(341.0 1641.6) scale(1.000 1)" x="-4.0" y="0" style="font-size:18px;">ヾ</text>
<text x="353.0" y="1641.6">､</text>
<text class="b" transform="translate(360.6 1640.1) scale(0.533 1)" x="0.0" y="0" style="font-size:12.5px;">＼</text>
<text x="367.6" y="1641.6">｀</text>
<text transform="translate(379.0 1641.6) scale(0.856 1)" x="-3.0" y="0">７</text>
<text x="388.0" y="1643.6">,</text>
<text x="415.0" y="1641.6" style="letter-spacing:-11.19px;">￣￣</text>
<text x="435.0" y="1643.6" style="font-size:18px;">|</text>
<text x="571.0" y="1643.6">,</text>
<text transform="translate(574.6 1643.6) scale(1.100 1)" x="-1.0" y="0">r</text>
<text class="d" x="581.0" y="1641.6" style="letter-spacing:-6.76px;">──</text>
<text x="596.0" y="1635.6" style="letter-spacing:1.28px;">,,</text>
<text x="607.0" y="1643.6">'</text>
<text x="667.5" y="1643.6">,</text>
<text transform="translate(769.0 1644.1) scale(0.833 1)" x="0.0" y="0" style="font-size:20px;">/</text>
<text class="c" x="759.0" y="1643.6" style="letter-spacing:-2.22px;">,,,,</text>
<text x="749.0" y="1641.1" style="letter-spacing:-6.45px;">__</text>
<text x="239.5" y="1660.7" style="font-size:18px;">|</text>
<text class="c" x="241.7" y="1661.7" style="font-size:13.5px;letter-spacing:-1.03px;">:.:.:.:.:.:.:.:.:.:.:.:.:.:.:.:.:.:.</text>
<text x="340.0" y="1660.7" style="font-size:18px;">|</text>
<text x="340.0" y="1658.7">｀</text>
<text class="b" transform="translate(355.0 1657.2) scale(0.550 1)" x="0.0" y="0" style="font-size:12.5px;">＼</text>
<text x="362.0" y="1658.7">｀</text>
<text transform="translate(372.6 1661.2) scale(1.067 1)" x="0.0" y="0" style="font-size:20px;">/</text>
<text x="379.0" y="1658.7">｡</text>
<text transform="translate(385.6 1658.7) scale(0.629 1)" x="-1.0" y="0">＞</text>
<text x="436.0" y="1660.7" style="font-size:18px;">!</text>
<text x="525.5" y="1658.2" style="letter-spacing:-6.95px;">__</text>
<text x="536.0" y="1660.7" style="letter-spacing:-2.22px;">,,</text>
<text transform="translate(542.0 1660.7) scale(1.000 1)" x="-1.0" y="0">r</text>
<text class="d" x="549.0" y="1658.7" style="letter-spacing:-8.76px;">──</text>
<text x="563.0" y="1660.7">,</text>
<text x="567.0" y="1660.7">'</text>
<text x="647.0" y="1660.7">,</text>
<text transform="translate(705.0 1658.2) scale(0.700 1)" x="1.0" y="0">_</text>
<text transform="translate(713.6 1660.7) scale(1.100 1)" x="-1.0" y="0">r</text>
<text class="d" x="720.5" y="1658.7" style="letter-spacing:-6.76px;">──</text>
<text x="735.0" y="1652.7" style="letter-spacing:-1.22px;">,,</text>
<text x="744.0" y="1660.7">'</text>
<text x="236.0" y="1677.8" style="font-size:18px;">|</text>
<text class="c" x="238.5" y="1678.8" style="font-size:13.5px;letter-spacing:-1.01px;">:.:.:.:.:.:.:.:.:.:.:.:.:.:.:.:.:.:.:.</text>
<text class="b" transform="translate(344.0 1674.3) scale(0.750 1)" x="0.0" y="0" style="font-size:12.5px;">＼</text>
<text x="370.0" y="1670.8" style="font-size:11px;letter-spacing:-1.06px;">,〃</text>
<text transform="translate(422.7 1678.3) scale(0.883 1)" x="0.0" y="0" style="font-size:20px;">/</text>
<text x="428.5" y="1677.8" style="font-size:18px;">!</text>
<text x="437.0" y="1677.8" style="font-size:18px;">|</text>
<text transform="translate(484.0 1675.3) scale(0.850 1)" x="1.0" y="0">_</text>
<text transform="translate(494.0 1677.8) scale(1.000 1)" x="-1.0" y="0">r</text>
<text x="501.0" y="1675.8" style="letter-spacing:-8.26px;">─-</text>
<text x="509.0" y="1669.8" style="letter-spacing:-0.22px;">,,</text>
<text x="518.0" y="1677.8">'</text>
<text x="555.5" y="1677.8">,</text>
<text x="564.4" y="1677.8">'</text>
<text x="627.7" y="1677.8">,</text>
<text transform="translate(668.5 1675.3) scale(0.850 1)" x="1.0" y="0">_</text>
<text transform="translate(678.0 1677.8) scale(1.125 1)" x="-1.0" y="0">r</text>
<text x="684.7" y="1675.8" style="letter-spacing:-7.46px;">─-</text>
<text x="695.0" y="1677.8">'</text>
<text x="702.0" y="1677.8" style="font-size:18px;">|</text>
<text x="235.0" y="1694.9" style="font-size:18px;">!</text>
<text class="c" x="239.0" y="1695.9" style="font-size:13.5px;letter-spacing:-0.98px;">:.:.:.:.:.:.:.:.:.:.:.:.:.:.:.:.:.:.:.:.:</text>
<text class="b" transform="translate(353.8 1691.4) scale(0.725 1)" x="0.0" y="0" style="font-size:12.5px;">＼</text>
<text transform="translate(433.5 1692.9) scale(0.917 1)" x="-1.0" y="0">ﾉ</text>
<text x="441.0" y="1692.4" style="letter-spacing:-0.85px;">__</text>
<text x="457.0" y="1694.9">,</text>
<text transform="translate(460.5 1694.9) scale(1.125 1)" x="-1.0" y="0">r</text>
<text x="467.0" y="1692.9" style="letter-spacing:-9.16px;">─-</text>
<text x="474.0" y="1694.9">,</text>
<text x="478.0" y="1694.9">'</text>
<text x="535.0" y="1694.9">,</text>
<text x="633.0" y="1692.4" style="letter-spacing:-6.45px;">__</text>
<text transform="translate(646.7 1694.9) scale(1.075 1)" x="-1.0" y="0">r</text>
<text x="653.5" y="1692.9" style="letter-spacing:-6.56px;">─-</text>
<text x="663.0" y="1694.9">,</text>
<text x="667.0" y="1694.9">'</text>
<text x="673.0" y="1694.9">:</text>
<text x="702.0" y="1694.9" style="font-size:18px;">!</text>
<text x="234.0" y="1712.0" style="font-size:18px;">!</text>
<text class="c" x="236.0" y="1713.0" style="font-size:13.5px;letter-spacing:-1.02px;">:.:.:.:.:.:.:.:.:.:.:.:.:.:.:.:</text>
<text transform="translate(321.0 1710.0) scale(1.500 1)" x="-5.0" y="0">ト</text>
<text class="c" x="334.0" y="1712.0" style="font-size:13.5px;letter-spacing:1.35px;">::::::</text>
<text transform="translate(362.5 1710.0) scale(0.786 1)" x="-1.0" y="0">＞</text>
<text class="d" x="374.5" y="1710.0" style="letter-spacing:-8.66px;">──</text>
<text x="389.0" y="1712.0" style="letter-spacing:1.28px;">,,</text>
<text transform="translate(397.5 1712.0) scale(1.625 1)" x="-1.0" y="0">r</text>
<text class="b" transform="translate(405.0 1712.0) scale(0.856 1)" x="0.0" y="0">=</text>
<text class="b" transform="translate(414.0 1710.0) scale(1.071 1)" x="0.0" y="0">ﾆ</text>
<text transform="translate(422.5 1712.5) scale(1.083 1)" x="0.0" y="0" style="font-size:20px;">/</text>
<text x="519.0" y="1712.0">,</text>
<text x="599.0" y="1712.0">,</text>
<text transform="translate(602.5 1712.0) scale(1.125 1)" x="-1.0" y="0">r</text>
<text x="609.0" y="1710.0" style="letter-spacing:-7.16px;">─-</text>
<text x="618.0" y="1704.0" style="letter-spacing:-1.22px;">,,</text>
<text x="628.0" y="1712.0">'</text>
<text class="d" transform="translate(681.6 1710.0) scale(1.260 1)" x="0.0" y="0">／</text>
<text x="230.6" y="1729.1" style="font-size:18px;">|</text>
<text class="c" x="233.0" y="1730.1" style="font-size:13.5px;letter-spacing:-0.98px;">:.:.:.:.:.:.:.:.:.:.:.:.:.:.:.:</text>
<text x="318.6" y="1729.1" style="font-size:18px;">|</text>
<text x="322.0" y="1726.1" style="letter-spacing:0.80px;">''</text>
<text transform="translate(332.0 1727.1) scale(1.182 1)" x="-2.0" y="0">フ</text>
<text x="348.0" y="1729.1">'</text>
<text x="419.4" y="1729.1">,</text>
<text x="428.0" y="1729.1">'</text>
<text x="501.7" y="1729.1">,</text>
<text class="d" transform="translate(578.0 1727.1) scale(1.067 1)" x="0.0" y="0">／</text>
<text transform="translate(571.6 1726.6) scale(0.840 1)" x="1.0" y="0">_</text>
<text x="605.0" y="1729.1">'</text>
<text class="d" transform="translate(660.0 1727.1) scale(1.200 1)" x="0.0" y="0">／</text>
<text x="230.6" y="1746.2" style="font-size:18px;">!</text>
<text class="c" x="234.0" y="1747.2" style="font-size:13.5px;letter-spacing:-1.00px;">:.:.:.:.:.:.:.:.:.:.:.:.:.:.:.</text>
<text x="316.4" y="1746.2" style="font-size:18px;">|</text>
<text x="321.0" y="1739.2" style="font-size:11px;letter-spacing:-3.36px;">,〃</text>
<text x="399.7" y="1746.2">,</text>
<text x="409.5" y="1746.2">'</text>
<text x="483.4" y="1746.2">,</text>
<text transform="translate(541.0 1743.7) scale(0.900 1)" x="1.0" y="0">_</text>
<text transform="translate(550.0 1746.2) scale(1.175 1)" x="-1.0" y="0">r</text>
<text x="555.6" y="1744.2" style="letter-spacing:-0.70px;">'''</text>
<text x="566.0" y="1741.2">'</text>
<text x="597.7" y="1746.2">:</text>
<text class="d" transform="translate(644.0 1744.2) scale(1.000 1)" x="0.0" y="0">／</text>
<text x="227.4" y="1763.3" style="font-size:18px;">!</text>
<text class="c" x="231.7" y="1764.3" style="font-size:13.5px;letter-spacing:-0.98px;">:.:.:.:.:.:.:.:.:.:.:.:.:.:.:</text>
<text x="311.4" y="1763.3" style="font-size:18px;">|</text>
<text x="315.6" y="1756.3" style="font-size:11px;letter-spacing:-2.26px;">,〃</text>
<text x="382.3" y="1763.3">,</text>
<text x="392.0" y="1763.3">'</text>
<text x="465.0" y="1763.3">,</text>
<text transform="translate(502.0 1760.8) scale(0.850 1)" x="1.0" y="0">_</text>
<text transform="translate(511.0 1763.3) scale(1.125 1)" x="-1.0" y="0">r</text>
<text class="d" transform="translate(517.0 1761.3) scale(0.550 1)" x="1.0" y="0">─</text>
<text x="524.0" y="1755.3" style="letter-spacing:-1.22px;">,,</text>
<text x="533.0" y="1763.3">'</text>
<text transform="translate(611.0 1760.8) scale(0.700 1)" x="1.0" y="0">_</text>
<text transform="translate(619.6 1763.3) scale(1.100 1)" x="-1.0" y="0">r</text>
<text x="625.5" y="1761.3" style="letter-spacing:-0.15px;">'''</text>
<text x="637.0" y="1758.3">'</text>
<text x="224.7" y="1780.4" style="font-size:18px;">|</text>
<text class="c" x="227.0" y="1781.4" style="font-size:13.5px;letter-spacing:-1.06px;">:.:.:.:.:.:.:.:.:.:.:.:.:.:.:.</text>
<text x="306.4" y="1780.4" style="font-size:18px;">|</text>
<text x="333.0" y="1780.4">.</text>
<text x="376.7" y="1780.4">'</text>
<text x="405.0" y="1780.4">,</text>
<text transform="translate(462.5 1777.9) scale(0.850 1)" x="1.0" y="0">_</text>
<text transform="translate(472.0 1780.4) scale(1.125 1)" x="-1.0" y="0">r</text>
<text x="479.0" y="1778.4" style="letter-spacing:-7.76px;">─-</text>
<text x="487.0" y="1772.4" style="letter-spacing:-1.22px;">,,</text>
<text x="496.0" y="1780.4">'</text>
<text x="529.0" y="1777.9" style="letter-spacing:-2.45px;">__</text>
<text x="549.0" y="1777.9" style="letter-spacing:-2.45px;">__</text>
<text class="c" x="565.0" y="1778.4" style="letter-spacing:-1.47px;">,,,,,</text>
<text x="581.0" y="1778.4" style="letter-spacing:-0.76px;">─-</text>
<text x="595.0" y="1772.4" style="letter-spacing:1.38px;">,,</text>
<text x="605.0" y="1780.4">'</text>
<text x="224.0" y="1797.5" style="font-size:18px;">!</text>
<text x="228.0" y="1797.5">:</text>
<text x="235.0" y="1797.5" style="font-size:18px;">i</text>
<text class="c" x="237.0" y="1798.5" style="font-size:13.5px;letter-spacing:-0.99px;">:.:.:.:.:.:.:.:.:.:.:.</text>
<text transform="translate(300.0 1798.0) scale(1.167 1)" x="0.0" y="0" style="font-size:20px;">/</text>
<text x="306.4" y="1797.5" style="font-size:18px;">|</text>
<text x="314.0" y="1797.5">,</text>
<text transform="translate(319.0 1797.5) scale(1.350 1)" x="-1.0" y="0">r</text>
<text x="325.5" y="1794.5" style="letter-spacing:0.60px;">''</text>
<text x="329.0" y="1797.5">:</text>
<text x="387.7" y="1797.5">,</text>
<text x="397.5" y="1797.5">'</text>
<text transform="translate(432.0 1795.0) scale(0.870 1)" x="1.0" y="0">_</text>
<text transform="translate(442.0 1797.5) scale(1.125 1)" x="-1.0" y="0">r</text>
<text class="b" transform="translate(448.0 1797.5) scale(0.778 1)" x="0.0" y="0">=</text>
<text class="b" transform="translate(456.7 1795.5) scale(0.829 1)" x="0.0" y="0">ﾆ</text>
<text class="d" x="472.0" y="1795.5" style="letter-spacing:1.24px;">────</text>
<text class="c" x="519.7" y="1789.5" style="letter-spacing:-2.32px;">,,,</text>
<text x="223.0" y="1814.6" style="font-size:18px;">!</text>
<text x="227.0" y="1814.6">:</text>
<text x="234.0" y="1814.6" style="font-size:18px;">|</text>
<text x="239.0" y="1814.6" style="font-size:18px;">i</text>
<text class="c" x="241.5" y="1815.6" style="font-size:13.5px;letter-spacing:-0.99px;">:.:.:.:.:.:.:.:.:.:.</text>
<text x="296.7" y="1814.6" style="font-size:18px;">|</text>
<text x="306.4" y="1814.6" style="font-size:18px;">!</text>
<text x="311.0" y="1814.6">'</text>
<text x="319.0" y="1814.6">:</text>
<text x="372.5" y="1814.6">,</text>
<text x="381.0" y="1814.6">'</text>
<text transform="translate(406.0 1812.1) scale(0.500 1)" x="1.0" y="0">_</text>
<text transform="translate(412.7 1814.6) scale(1.325 1)" x="-1.0" y="0">r</text>
<text transform="translate(419.5 1812.6) scale(0.586 1)" x="0.0" y="0">＜</text>
<text class="b" transform="translate(429.0 1811.1) scale(0.667 1)" x="0.0" y="0" style="font-size:12.5px;">＼</text>
<text transform="translate(438.6 1812.6) scale(1.025 1)" x="-5.0" y="0">ト</text>
<text x="447.0" y="1812.6">､</text>
<text class="b" transform="translate(456.0 1811.1) scale(0.583 1)" x="0.0" y="0" style="font-size:12.5px;">＼</text>
<text x="223.0" y="1831.7" style="font-size:18px;">!</text>
<text x="227.0" y="1831.7">.</text>
<text x="231.0" y="1831.7" style="font-size:18px;">!</text>
<text x="235.0" y="1831.7" style="font-size:18px;">|</text>
<text x="239.0" y="1831.7" style="font-size:18px;">i</text>
<text class="c" x="242.6" y="1832.7" style="font-size:13.5px;letter-spacing:-1.14px;">:.:.:.:.:.:.:.:.:.</text>
<text x="290.0" y="1831.7" style="font-size:18px;">i</text>
<text x="294.0" y="1831.7" style="font-size:18px;">|</text>
<text x="304.0" y="1831.7" style="font-size:18px;">|</text>
<text x="324.0" y="1831.7">'</text>
<text x="328.5" y="1831.7">,</text>
<text x="357.0" y="1831.7">,</text>
<text x="366.0" y="1831.7">'</text>
<text class="d" transform="translate(388.0 1829.7) scale(1.100 1)" x="0.0" y="0">／</text>
<text x="405.0" y="1831.7">:</text>
<text x="415.0" y="1831.7">'</text>
<text x="418.0" y="1829.7">､</text>
<text x="426.7" y="1831.7" style="font-size:18px;">|</text>
<text class="c" x="429.0" y="1831.7" style="font-size:13.5px;letter-spacing:-0.45px;">:.:</text>
<text transform="translate(440.0 1831.7) scale(1.056 1)" x="-1.0" y="0">H</text>
<text class="b" transform="translate(451.0 1828.2) scale(0.667 1)" x="0.0" y="0" style="font-size:12.5px;">＼</text>
<text x="461.0" y="1831.7">.</text>
<text transform="translate(468.6 1829.7) scale(0.493 1)" x="-1.0" y="0">人</text>
<text transform="translate(226.0 1846.8) scale(0.833 1)" x="-1.0" y="0">ﾚ</text>
<text x="233.0" y="1848.8" style="font-size:18px;">!</text>
<text x="243.0" y="1848.8" style="font-size:18px;">!</text>
<text x="251.0" y="1848.8" style="font-size:18px;">i</text>
<text class="c" x="253.5" y="1849.8" style="font-size:13.5px;letter-spacing:-1.17px;">:.:.:.:.:.:.:.</text>
<text transform="translate(291.0 1846.8) scale(0.944 1)" x="-1.0" y="0">И</text>
<text x="300.0" y="1848.8">:</text>
<text x="300.0" y="1846.8">｀</text>
<text x="309.0" y="1849.8">ヽ</text>
<text x="338.0" y="1848.8" style="letter-spacing:4.78px;">..</text>
<text class="d" transform="translate(362.0 1846.8) scale(1.200 1)" x="0.0" y="0">／</text>
<text x="384.0" y="1848.8">:</text>
<text x="390.0" y="1848.8">;</text>
<text x="399.0" y="1848.8">:</text>
<text x="403.0" y="1848.8">'</text>
<text class="c" x="406.0" y="1848.8" style="font-size:13.5px;letter-spacing:3.55px;">:::</text>
<text x="426.0" y="1848.8" style="font-size:18px;">|</text>
<text class="c" x="428.0" y="1848.8" style="font-size:13.5px;letter-spacing:0.25px;">:.:.</text>
<text x="443.0" y="1848.8" style="font-size:18px;">|</text>
<text transform="translate(445.5 1848.8) scale(0.938 1)" x="0.0" y="0" style="font-size:17px;">O</text>
<text x="459.4" y="1848.8" style="font-size:18px;">!</text>
<text x="463.5" y="1848.8">'</text>
<text x="461.0" y="1846.8">｀</text>
<text x="475.8" y="1848.8" style="font-size:18px;">|</text>
<text transform="translate(236.8 1863.9) scale(0.836 1)" x="-2.0" y="0">Ｖ</text>
<text x="247.0" y="1865.9" style="font-size:18px;">|</text>
<text x="250.0" y="1865.9" style="font-size:18px;">!</text>
<text transform="translate(258.6 1863.9) scale(0.855 1)" x="-4.0" y="0" style="font-size:18px;">ヾ</text>
<text x="269.0" y="1863.9">､</text>
<text x="274.0" y="1865.9" style="letter-spacing:-2.22px;">:;</text>
<text transform="translate(280.5 1865.9) scale(1.056 1)" x="-1.0" y="0">N</text>
<text x="293.0" y="1865.9" style="font-size:18px;">!</text>
<text class="c" x="297.0" y="1865.9" style="font-size:13.5px;letter-spacing:2.92px;">::::</text>
<text x="311.0" y="1863.9">｀</text>
<text x="321.0" y="1866.9">ヽ</text>
<text x="347.0" y="1865.9">'</text>
<text x="349.0" y="1865.9">,</text>
<text transform="translate(351.4 1866.4) scale(0.900 1)" x="0.0" y="0" style="font-size:20px;">/</text>
<text x="358.5" y="1865.9">:</text>
<text class="c" x="362.6" y="1865.9" style="font-size:13.5px;letter-spacing:4.88px;">::::::::</text>
<text x="424.0" y="1863.9" style="letter-spacing:-3.19px;">｀´</text>
<text x="445.8" y="1865.9" style="letter-spacing:0.58px;">::</text>
<text x="459.4" y="1865.9" style="font-size:18px;">!</text>
<text x="465.0" y="1865.9">:</text>
<text x="472.7" y="1865.9" style="letter-spacing:-2.76px;">-|</text>
<text x="297.0" y="1883.0" style="font-size:18px;">!</text>
<text class="c" x="304.0" y="1883.0" style="font-size:13.5px;letter-spacing:4.72px;">::::::::::::::::::</text>
<text x="452.0" y="1883.0" style="letter-spacing:-2.06px;">':|</text>
<text x="462.0" y="1883.0">:</text>
<text x="470.5" y="1883.0" style="font-size:18px;">|</text>
<text x="302.6" y="1900.1" style="font-size:18px;">!</text>
<text class="c" x="308.0" y="1900.1" style="font-size:13.5px;letter-spacing:4.48px;">::::::::::::::::</text>
<text x="437.0" y="1900.1">'</text>
<text x="439.0" y="1900.1">:</text>
<text x="443.0" y="1900.1" style="font-size:18px;">i</text>
<text x="448.5" y="1900.1" style="font-size:18px;">|</text>
<text x="457.0" y="1900.1">:</text>
<text transform="translate(466.0 1898.1) scale(1.080 1)" x="-1.0" y="0">｣</text>
<text x="307.5" y="1917.2" style="font-size:18px;">!</text>
<text class="c" x="312.0" y="1917.2" style="font-size:13.5px;letter-spacing:4.78px;">:::::::::::::::</text>
<text transform="translate(438.6 1917.2) scale(0.683 1)" x="0.0" y="0">O</text>
<text x="448.5" y="1917.2" style="font-size:18px;">!</text>
<text transform="translate(459.0 1917.7) scale(1.167 1)" x="0.0" y="0" style="font-size:20px;">/</text>
<text x="312.0" y="1934.3" style="font-size:18px;">!</text>
<text class="c" x="319.0" y="1934.3" style="font-size:13.5px;letter-spacing:4.38px;">::::::::::::::::</text>
<text x="444.5" y="1934.3" style="font-size:18px;">|</text>
<text x="454.0" y="1934.3" style="font-size:18px;">|</text>
<text transform="translate(307.7 1931.8) scale(0.530 1)" x="1.0" y="0">_</text>
<text transform="translate(291.0 1948.9) scale(0.600 1)" x="1.0" y="0">_</text>
<text transform="translate(296.8 1951.4) scale(1.700 1)" x="-1.0" y="0">r</text>
<text x="304.5" y="1948.4">'</text>
<text class="c" x="308.0" y="1951.4" style="font-size:13.5px;letter-spacing:4.65px;">::::::::::::::::</text>
<text x="439.0" y="1951.4" style="font-size:18px;">i</text>
<text x="443.0" y="1951.4" style="font-size:18px;">!</text>
<text x="450.0" y="1951.4" style="font-size:18px;">!</text>
<text transform="translate(261.0 1966.0) scale(0.600 1)" x="1.0" y="0">_</text>
<text transform="translate(266.8 1968.5) scale(1.300 1)" x="-1.0" y="0">r</text>
<text class="d" transform="translate(273.6 1966.5) scale(0.575 1)" x="1.0" y="0">─</text>
<text x="283.0" y="1968.5">'</text>
<text x="285.0" y="1962.5" style="letter-spacing:-2.06px;">-'</text>
<text class="c" x="290.0" y="1968.5" style="font-size:13.5px;letter-spacing:4.78px;">::::::::::::::::</text>
<text transform="translate(422.0 1968.5) scale(1.425 1)" x="-1.0" y="0">r</text>
<text x="428.0" y="1966.5">､</text>
<text x="436.0" y="1968.5" style="font-size:18px;">|</text>
<text x="440.0" y="1968.5">:</text>
<text x="444.5" y="1968.5" style="font-size:18px;">!</text>
<text transform="translate(232.7 1983.1) scale(0.530 1)" x="1.0" y="0">_</text>
<text transform="translate(239.5 1985.6) scale(1.375 1)" x="-1.0" y="0">r</text>
<text x="247.0" y="1985.6">'</text>
<text x="249.0" y="1979.6" style="letter-spacing:-2.06px;">-'</text>
<text transform="translate(256.0 1983.6) scale(1.080 1)" x="-1.0" y="0">｣</text>
<text class="c" x="260.0" y="1985.6" style="font-size:13.5px;letter-spacing:4.65px;">::::::</text>
<text transform="translate(307.7 1983.6) scale(1.025 1)" x="-2.0" y="0">に</text>
<text class="b" transform="translate(325.5 1982.1) scale(0.675 1)" x="0.0" y="0" style="font-size:12.5px;">＼</text>
<text class="c" x="335.0" y="1985.6" style="font-size:13.5px;letter-spacing:4.25px;">:::::::::::</text>
<text x="415.0" y="1983.6">｀</text>
<text x="424.0" y="1985.6" style="font-size:18px;">i</text>
<text x="428.0" y="1985.6">'</text>
<text x="434.0" y="1985.6">:</text>
<text transform="translate(440.0 1986.1) scale(1.133 1)" x="0.0" y="0" style="font-size:20px;">/</text>
<text transform="translate(205.5 2002.7) scale(1.375 1)" x="-1.0" y="0">r</text>
<text x="212.0" y="1999.7" style="letter-spacing:-0.40px;">'''</text>
<text class="c" x="227.6" y="2002.7" style="font-size:13.5px;letter-spacing:-0.71px;">::::::::::::</text>
<text class="b" transform="translate(264.0 1999.2) scale(0.667 1)" x="0.0" y="0" style="font-size:12.5px;">＼</text>
<text class="c" x="274.0" y="2002.7" style="font-size:13.5px;letter-spacing:3.92px;">::::</text>
<text transform="translate(303.0 1996.7) scale(0.800 1)" x="0.0" y="0">⌒</text>
<text class="b" transform="translate(320.0 1999.2) scale(0.667 1)" x="0.0" y="0" style="font-size:12.5px;">＼</text>
<text class="d" transform="translate(328.0 2000.7) scale(0.733 1)" x="0.0" y="0">＼</text>
<text transform="translate(347.0 2000.7) scale(1.000 1)" x="-4.0" y="0">ゝ</text>
<text class="c" x="354.5" y="2002.7" style="font-size:13.5px;letter-spacing:1.50px;">:::::::::::</text>
<text class="d" transform="translate(416.8 2000.7) scale(0.613 1)" x="0.0" y="0">／</text>
<text class="d" transform="translate(426.0 2000.7) scale(0.933 1)" x="0.0" y="0">／</text>
</svg>
<div class="cap" style="top:400.5px;left:263px;">来到顶楼。不像以往那样，先轻轻敲三下门，</div>
<div class="cap" style="top:807.5px;left:343px;">而是直接握住黄铜把手，转动。</div>
<div class="cap" style="top:1368px;left:446.5px;">间桐千代的房间</div>
<div class="cap" style="top:1368px;left:415px;transform:scaleX(2);transform-origin:100% 50%">［</div>
<div class="cap" style="top:1368px;left:654px;transform:scaleX(2);transform-origin:0 50%">］</div>
</body></html>
